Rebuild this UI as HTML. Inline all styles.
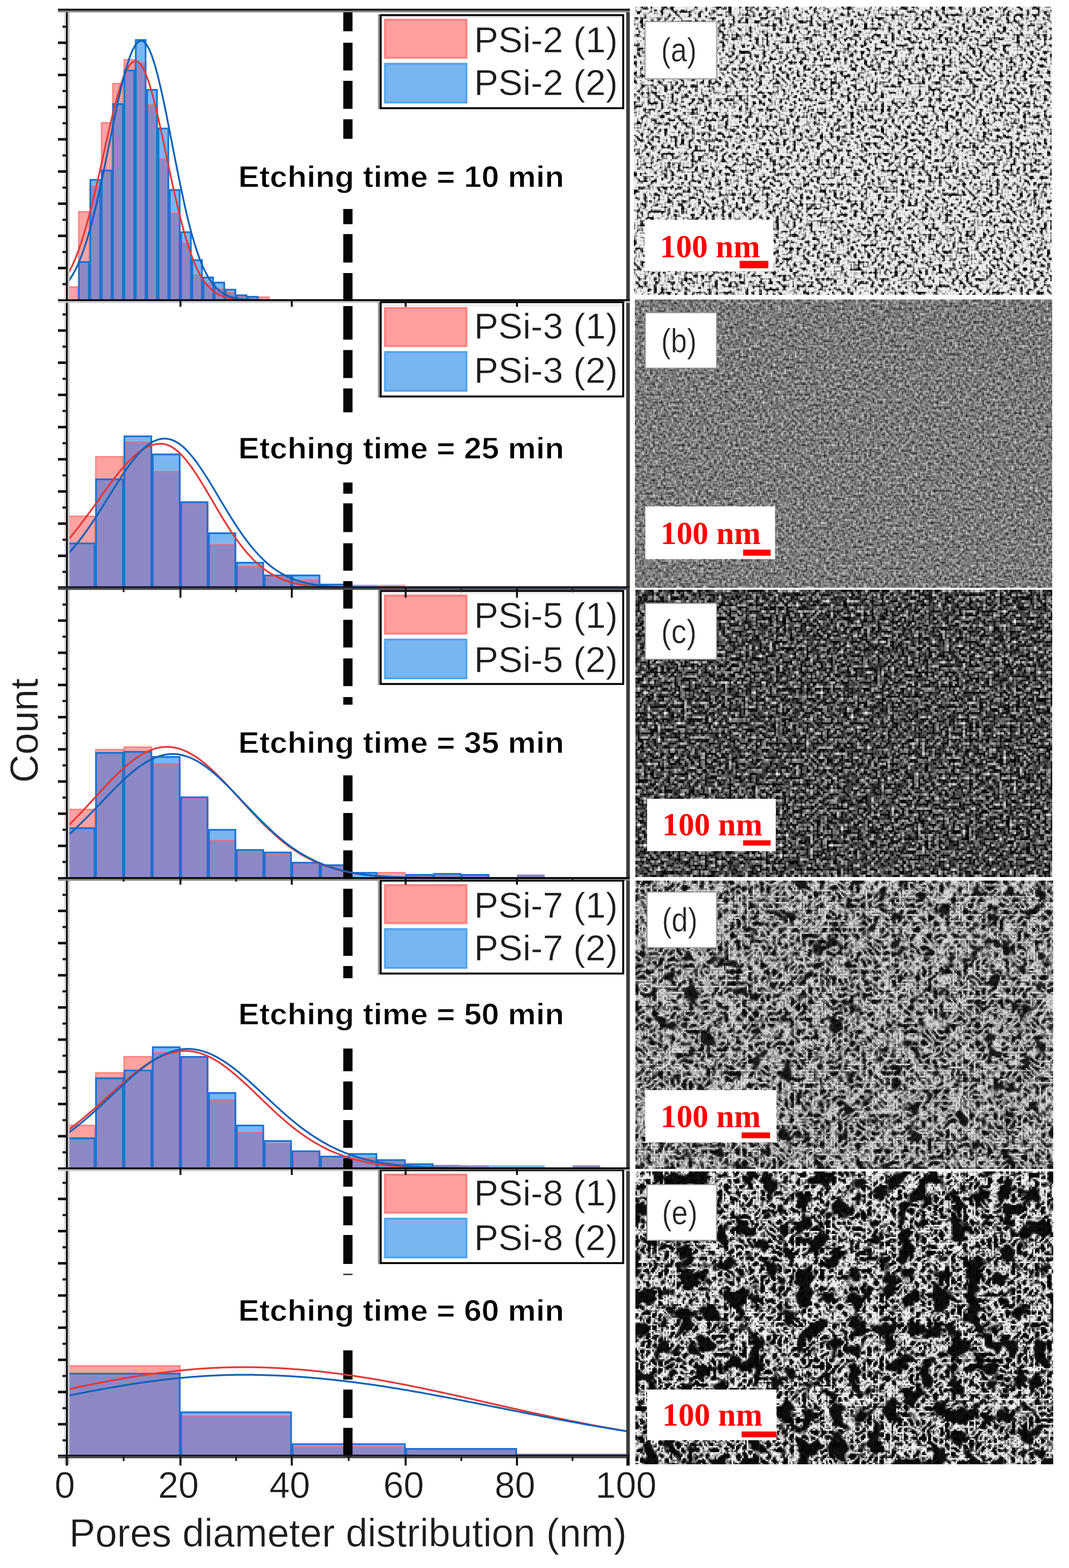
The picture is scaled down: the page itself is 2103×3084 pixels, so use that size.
<!DOCTYPE html>
<html lang="en"><head><meta charset="utf-8"><title>Pores diameter distribution</title>
<style>
html,body{margin:0;padding:0;background:#fff;}
svg{display:block;}
text{font-family:"Liberation Sans",sans-serif;fill:#1c1c1c;stroke:#fff;stroke-width:0.6px;}
.ser{font-family:"Liberation Serif",serif;font-weight:bold;fill:#ff0000;stroke:none;}
.b{font-weight:bold;fill:#000;stroke-width:1px;}
</style></head><body>
<svg width="2103" height="3084" viewBox="0 0 2103 3084">
<rect width="2103" height="3084" fill="#fff"/>

<defs>
<filter id="fa" x="0" y="0" width="100%" height="100%" primitiveUnits="userSpaceOnUse" color-interpolation-filters="sRGB">
 <feTurbulence type="fractalNoise" baseFrequency="0.15" numOctaves="1" seed="3"/>
 <feColorMatrix type="matrix" values="5.0 0 0 0 -1.5978  5.0 0 0 0 -1.5978  5.0 0 0 0 -1.5978  0 0 0 0 1" result="n0"/>
 <feColorMatrix type="matrix" values="0.93 0 0 0 0.0  0.93 0 0 0 0.0  0.93 0 0 0 0.0  0 0 0 0 1" result="n"/>
 <feFlood x="1248" y="14" width="1" height="1" flood-color="#000" result="dot"/>
 <feComposite in="dot" in2="dot" operator="over" x="1247" y="13" width="3" height="3"/>
 <feTile result="grid"/>
 <feComposite in="n" in2="grid" operator="in"/>
 <feMorphology operator="dilate" radius="1"/>
 <feGaussianBlur stdDeviation="0.4"/>
</filter>
<filter id="fb" x="0" y="0" width="100%" height="100%" primitiveUnits="userSpaceOnUse" color-interpolation-filters="sRGB">
 <feTurbulence type="fractalNoise" baseFrequency="0.19" numOctaves="1" seed="7"/>
 <feColorMatrix type="matrix" values="1.15 0 0 0 -0.0927  1.15 0 0 0 -0.0927  1.15 0 0 0 -0.0927  0 0 0 0 1" result="n"/>
 <feFlood x="1250" y="590" width="1" height="1" flood-color="#000" result="dot"/>
 <feComposite in="dot" in2="dot" operator="over" x="1249" y="589" width="3" height="3"/>
 <feTile result="grid"/>
 <feComposite in="n" in2="grid" operator="in"/>
 <feMorphology operator="dilate" radius="1"/>
 <feGaussianBlur stdDeviation="0.4"/>
</filter>
<filter id="fc" x="0" y="0" width="100%" height="100%" primitiveUnits="userSpaceOnUse" color-interpolation-filters="sRGB">
 <feTurbulence type="fractalNoise" baseFrequency="0.15" numOctaves="1" seed="11"/>
 <feColorMatrix type="matrix" values="2.2 0 0 0 -0.8783  2.2 0 0 0 -0.8783  2.2 0 0 0 -0.8783  0 0 0 0 1" result="n"/>
 <feFlood x="1252" y="1162" width="1" height="1" flood-color="#000" result="dot"/>
 <feComposite in="dot" in2="dot" operator="over" x="1250" y="1160" width="4" height="4"/>
 <feTile result="grid"/>
 <feComposite in="n" in2="grid" operator="in"/>
 <feMorphology operator="dilate" radius="2"/>
 <feGaussianBlur stdDeviation="0.5"/>
</filter>
<filter id="fd" x="0" y="0" width="100%" height="100%" primitiveUnits="userSpaceOnUse" color-interpolation-filters="sRGB">
 <feTurbulence type="turbulence" baseFrequency="0.085" numOctaves="2" seed="5"/>
 <feColorMatrix type="matrix" values="-2.4 0 0 0 1.1787  -2.4 0 0 0 1.1787  -2.4 0 0 0 1.1787  0 0 0 0 1" result="hi"/>
 <feTurbulence type="fractalNoise" baseFrequency="0.032" numOctaves="2" seed="21"/>
 <feColorMatrix type="matrix" values="12 0 0 0 -3.4  12 0 0 0 -3.4  12 0 0 0 -3.4  0 0 0 0 1" result="lo"/>
 <feComposite in="hi" in2="lo" operator="arithmetic" k1="0.9" k2="0.10" k3="0" k4="0" result="n0"/>
 <feColorMatrix type="matrix" values="0.82 0 0 0 0.04  0.82 0 0 0 0.04  0.82 0 0 0 0.04  0 0 0 0 1" result="n"/>
 <feFlood x="1251" y="1733" width="1" height="1" flood-color="#000" result="dot"/>
 <feComposite in="dot" in2="dot" operator="over" x="1250" y="1732" width="3" height="3"/>
 <feTile result="grid"/>
 <feComposite in="n" in2="grid" operator="in"/>
 <feMorphology operator="dilate" radius="1"/>
 <feGaussianBlur stdDeviation="0.5"/>
</filter>
<filter id="fe" x="0" y="0" width="100%" height="100%" primitiveUnits="userSpaceOnUse" color-interpolation-filters="sRGB">
 <feTurbulence type="turbulence" baseFrequency="0.085" numOctaves="2" seed="9"/>
 <feColorMatrix type="matrix" values="-4 0 0 0 1.5186  -4 0 0 0 1.5186  -4 0 0 0 1.5186  0 0 0 0 1" result="hi"/>
 <feTurbulence type="fractalNoise" baseFrequency="0.03" numOctaves="2" seed="4"/>
 <feColorMatrix type="matrix" values="12 0 0 0 -4.6  12 0 0 0 -4.6  12 0 0 0 -4.6  0 0 0 0 1" result="lo"/>
 <feComposite in="hi" in2="lo" operator="arithmetic" k1="0.95" k2="0.05" k3="0" k4="0" result="n0"/>
 <feColorMatrix type="matrix" values="0.92 0 0 0 0.02  0.92 0 0 0 0.02  0.92 0 0 0 0.02  0 0 0 0 1" result="n"/>
 <feFlood x="1251" y="2305" width="1" height="1" flood-color="#000" result="dot"/>
 <feComposite in="dot" in2="dot" operator="over" x="1250" y="2304" width="3" height="3"/>
 <feTile result="grid"/>
 <feComposite in="n" in2="grid" operator="in"/>
 <feMorphology operator="dilate" radius="1"/>
 <feGaussianBlur stdDeviation="0.5"/>
</filter>
</defs>

<g>
<rect x="1247" y="13" width="822.5" height="567.7" fill="#888" filter="url(#fa)"/>
<rect x="1269" y="42.6" width="141.0" height="112.4" fill="#fff" stroke="#999" stroke-width="2"/>
<text x="1335.5" y="120.6" font-size="66" text-anchor="middle" textLength="70" lengthAdjust="spacingAndGlyphs" style="fill:#222">(a)</text>
<rect x="1268.3" y="432.3" width="253.3" height="101.0" fill="#fff"/>
<text class="ser" x="1298.3" y="506" font-size="63" textLength="197" lengthAdjust="spacingAndGlyphs">100 nm</text>
<rect x="1455" y="513" width="56.5" height="14.6" fill="#ff0000"/>
</g>
<g>
<rect x="1249" y="589" width="820.5" height="567.5" fill="#888" filter="url(#fb)"/>
<rect x="1269.5" y="615" width="140.1" height="109.0" fill="#fff" stroke="#999" stroke-width="2"/>
<text x="1335.5" y="693.0" font-size="66" text-anchor="middle" textLength="70" lengthAdjust="spacingAndGlyphs" style="fill:#222">(b)</text>
<rect x="1269.5" y="996" width="255.2" height="103.6" fill="#fff"/>
<text class="ser" x="1299.5" y="1070" font-size="63" textLength="197" lengthAdjust="spacingAndGlyphs">100 nm</text>
<rect x="1462" y="1081" width="54.0" height="12.0" fill="#ff0000"/>
</g>
<g>
<rect x="1250" y="1160" width="819.5" height="564.7" fill="#888" filter="url(#fc)"/>
<rect x="1269.5" y="1186.7" width="140.1" height="110.0" fill="#fff" stroke="#999" stroke-width="2"/>
<text x="1335.5" y="1264.7" font-size="66" text-anchor="middle" textLength="70" lengthAdjust="spacingAndGlyphs" style="fill:#222">(c)</text>
<rect x="1273" y="1571" width="253.0" height="103.0" fill="#fff"/>
<text class="ser" x="1303.0" y="1643" font-size="63" textLength="197" lengthAdjust="spacingAndGlyphs">100 nm</text>
<rect x="1462" y="1652.7" width="54.0" height="10.3" fill="#ff0000"/>
</g>
<g>
<rect x="1250" y="1732" width="822.5" height="567.8" fill="#888" filter="url(#fd)"/>
<rect x="1273" y="1754.4" width="136.6" height="109.4" fill="#fff" stroke="#999" stroke-width="2"/>
<text x="1337.3" y="1832.4" font-size="66" text-anchor="middle" textLength="70" lengthAdjust="spacingAndGlyphs" style="fill:#222">(d)</text>
<rect x="1269.5" y="2144" width="258.1" height="102.7" fill="#fff"/>
<text class="ser" x="1299.5" y="2217" font-size="63" textLength="197" lengthAdjust="spacingAndGlyphs">100 nm</text>
<rect x="1459" y="2227.3" width="56.0" height="11.4" fill="#ff0000"/>
</g>
<g>
<rect x="1250" y="2304" width="822.5" height="575.5" fill="#888" filter="url(#fe)"/>
<rect x="1273" y="2330" width="136.6" height="109.5" fill="#fff" stroke="#999" stroke-width="2"/>
<text x="1337.3" y="2408.0" font-size="66" text-anchor="middle" textLength="70" lengthAdjust="spacingAndGlyphs" style="fill:#222">(e)</text>
<rect x="1273" y="2733" width="254.6" height="99.6" fill="#fff"/>
<text class="ser" x="1303.0" y="2804" font-size="63" textLength="197" lengthAdjust="spacingAndGlyphs">100 nm</text>
<rect x="1459" y="2815.5" width="68.6" height="11.5" fill="#ff0000"/>
</g>
<g>
<rect x="131.5" y="563.0" width="22.3" height="27.5" fill="#ffa2a2"/><rect x="153.8" y="513.6" width="22.3" height="76.9" fill="#8d88c5"/><rect x="153.8" y="415.0" width="22.3" height="98.6" fill="#ffa2a2"/><rect x="176.2" y="365.0" width="22.4" height="225.5" fill="#8d88c5"/><rect x="176.2" y="352.0" width="22.4" height="13.0" fill="#79b6f2"/><rect x="198.6" y="333.5" width="22.3" height="257.0" fill="#8d88c5"/><rect x="198.6" y="240.0" width="22.3" height="93.5" fill="#ffa2a2"/><rect x="220.9" y="203.0" width="22.3" height="387.5" fill="#8d88c5"/><rect x="220.9" y="163.0" width="22.3" height="40.0" fill="#ffa2a2"/><rect x="243.2" y="137.0" width="22.4" height="453.5" fill="#8d88c5"/><rect x="243.2" y="116.0" width="22.4" height="21.0" fill="#ffa2a2"/><rect x="265.6" y="123.0" width="22.3" height="467.5" fill="#8d88c5"/><rect x="265.6" y="77.0" width="22.3" height="46.0" fill="#79b6f2"/><rect x="287.9" y="205.0" width="22.4" height="385.5" fill="#8d88c5"/><rect x="287.9" y="175.0" width="22.4" height="30.0" fill="#79b6f2"/><rect x="310.3" y="311.0" width="22.3" height="279.5" fill="#8d88c5"/><rect x="310.3" y="251.0" width="22.3" height="60.0" fill="#79b6f2"/><rect x="332.6" y="417.5" width="22.4" height="173.0" fill="#8d88c5"/><rect x="332.6" y="372.0" width="22.4" height="45.5" fill="#79b6f2"/><rect x="355.0" y="477.0" width="21.9" height="113.5" fill="#8d88c5"/><rect x="355.0" y="455.0" width="21.9" height="22.0" fill="#79b6f2"/><rect x="376.9" y="540.0" width="21.9" height="50.5" fill="#8d88c5"/><rect x="376.9" y="510.0" width="21.9" height="30.0" fill="#79b6f2"/><rect x="398.8" y="556.0" width="21.9" height="34.5" fill="#8d88c5"/><rect x="398.8" y="544.0" width="21.9" height="12.0" fill="#79b6f2"/><rect x="420.7" y="567.0" width="21.9" height="23.5" fill="#8d88c5"/><rect x="420.7" y="554.0" width="21.9" height="13.0" fill="#79b6f2"/><rect x="442.6" y="574.0" width="21.9" height="16.5" fill="#8d88c5"/><rect x="442.6" y="568.0" width="21.9" height="6.0" fill="#79b6f2"/><rect x="464.5" y="581.0" width="21.9" height="9.5" fill="#8d88c5"/><rect x="464.5" y="579.0" width="21.9" height="2.0" fill="#79b6f2"/><rect x="486.4" y="583.0" width="21.9" height="7.5" fill="#8d88c5"/><rect x="486.4" y="582.0" width="21.9" height="1.0" fill="#79b6f2"/><rect x="508.3" y="583.0" width="21.9" height="7.5" fill="#ffa2a2"/>
<g fill="none" stroke="#ff6e6e" stroke-width="3" stroke-opacity="0.55"><path d="M132.5,590.5 V564.5 H152.8 V590.5"/><path d="M154.8,590.5 V416.5 H175.2 V590.5"/><path d="M177.2,590.5 V366.5 H197.6 V590.5"/><path d="M199.6,590.5 V241.5 H219.9 V590.5"/><path d="M221.9,590.5 V164.5 H242.2 V590.5"/><path d="M244.2,590.5 V117.5 H264.6 V590.5"/><path d="M266.6,590.5 V124.5 H286.9 V590.5"/><path d="M288.9,590.5 V206.5 H309.3 V590.5"/><path d="M311.3,590.5 V312.5 H331.6 V590.5"/><path d="M333.6,590.5 V419.0 H354.0 V590.5"/><path d="M356.0,590.5 V478.5 H375.9 V590.5"/><path d="M377.9,590.5 V541.5 H397.8 V590.5"/><path d="M399.8,590.5 V557.5 H419.7 V590.5"/><path d="M421.7,590.5 V568.5 H441.6 V590.5"/><path d="M443.6,590.5 V575.5 H463.5 V590.5"/><path d="M465.5,590.5 V582.5 H485.4 V590.5"/><path d="M487.4,590.5 V584.5 H507.3 V590.5"/><path d="M509.3,590.5 V584.5 H529.2 V590.5"/></g>
<g fill="none" stroke="#0f6fd4" stroke-width="3.4" stroke-opacity="0.9"><path d="M155.3,590.5 V515.3 H174.7 V590.5"/><path d="M177.7,590.5 V353.7 H197.1 V590.5"/><path d="M200.1,590.5 V335.2 H219.4 V590.5"/><path d="M222.4,590.5 V204.7 H241.8 V590.5"/><path d="M244.8,590.5 V138.7 H264.1 V590.5"/><path d="M267.1,590.5 V78.7 H286.4 V590.5"/><path d="M289.4,590.5 V176.7 H308.8 V590.5"/><path d="M311.8,590.5 V252.7 H331.1 V590.5"/><path d="M334.1,590.5 V373.7 H353.5 V590.5"/><path d="M356.5,590.5 V456.7 H375.4 V590.5"/><path d="M378.4,590.5 V511.7 H397.3 V590.5"/><path d="M400.3,590.5 V545.7 H419.2 V590.5"/><path d="M422.2,590.5 V555.7 H441.1 V590.5"/><path d="M444.1,590.5 V569.7 H463.0 V590.5"/><path d="M466.0,590.5 V580.7 H484.9 V590.5"/><path d="M487.9,590.5 V583.7 H506.8 V590.5"/></g>
</g>
<g>
<rect x="131.5" y="1067.0" width="55.9" height="89.5" fill="#8d88c5"/><rect x="131.5" y="1014.0" width="55.9" height="53.0" fill="#ffa2a2"/><rect x="187.4" y="941.0" width="55.9" height="215.5" fill="#8d88c5"/><rect x="187.4" y="897.0" width="55.9" height="44.0" fill="#ffa2a2"/><rect x="243.2" y="867.7" width="55.9" height="288.8" fill="#8d88c5"/><rect x="243.2" y="856.6" width="55.9" height="11.1" fill="#79b6f2"/><rect x="299.1" y="925.7" width="55.9" height="230.8" fill="#8d88c5"/><rect x="299.1" y="892.0" width="55.9" height="33.7" fill="#79b6f2"/><rect x="355.0" y="989.0" width="54.8" height="167.5" fill="#8d88c5"/><rect x="355.0" y="986.0" width="54.8" height="3.0" fill="#79b6f2"/><rect x="409.8" y="1069.6" width="54.8" height="86.9" fill="#8d88c5"/><rect x="409.8" y="1047.0" width="54.8" height="22.6" fill="#79b6f2"/><rect x="464.5" y="1112.5" width="54.8" height="44.0" fill="#8d88c5"/><rect x="464.5" y="1105.0" width="54.8" height="7.5" fill="#79b6f2"/><rect x="519.2" y="1132.7" width="54.8" height="23.8" fill="#8d88c5"/><rect x="519.2" y="1130.0" width="54.8" height="2.7" fill="#79b6f2"/><rect x="574.0" y="1140.0" width="56.0" height="16.5" fill="#8d88c5"/><rect x="574.0" y="1130.0" width="56.0" height="10.0" fill="#79b6f2"/><rect x="630.0" y="1148.0" width="56.0" height="8.5" fill="#8d88c5"/><rect x="686.0" y="1150.0" width="56.0" height="6.5" fill="#79b6f2"/><rect x="742.0" y="1150.0" width="56.0" height="6.5" fill="#ffa2a2"/>
<g fill="none" stroke="#ff6e6e" stroke-width="3" stroke-opacity="0.55"><path d="M132.5,1156.5 V1015.5 H186.4 V1156.5"/><path d="M188.4,1156.5 V898.5 H242.2 V1156.5"/><path d="M244.2,1156.5 V869.2 H298.1 V1156.5"/><path d="M300.1,1156.5 V927.2 H354.0 V1156.5"/><path d="M356.0,1156.5 V990.5 H408.8 V1156.5"/><path d="M410.8,1156.5 V1071.1 H463.5 V1156.5"/><path d="M465.5,1156.5 V1114.0 H518.2 V1156.5"/><path d="M520.2,1156.5 V1134.2 H573.0 V1156.5"/><path d="M575.0,1156.5 V1141.5 H629.0 V1156.5"/><path d="M631.0,1156.5 V1149.5 H685.0 V1156.5"/></g>
<g fill="none" stroke="#0f6fd4" stroke-width="3.4" stroke-opacity="0.9"><path d="M133.0,1156.5 V1068.7 H185.9 V1156.5"/><path d="M188.9,1156.5 V942.7 H241.8 V1156.5"/><path d="M244.8,1156.5 V858.3 H297.6 V1156.5"/><path d="M300.6,1156.5 V893.7 H353.5 V1156.5"/><path d="M356.5,1156.5 V987.7 H408.2 V1156.5"/><path d="M411.2,1156.5 V1048.7 H463.0 V1156.5"/><path d="M466.0,1156.5 V1106.7 H517.8 V1156.5"/><path d="M520.8,1156.5 V1131.7 H572.5 V1156.5"/><path d="M575.5,1156.5 V1131.7 H628.5 V1156.5"/><path d="M631.5,1156.5 V1149.7 H684.5 V1156.5"/></g>
</g>
<g>
<rect x="131.5" y="1627.0" width="55.9" height="100.0" fill="#8d88c5"/><rect x="131.5" y="1590.7" width="55.9" height="36.3" fill="#ffa2a2"/><rect x="187.4" y="1479.0" width="55.9" height="248.0" fill="#8d88c5"/><rect x="187.4" y="1473.0" width="55.9" height="6.0" fill="#ffa2a2"/><rect x="243.2" y="1477.0" width="55.9" height="250.0" fill="#8d88c5"/><rect x="243.2" y="1468.0" width="55.9" height="9.0" fill="#ffa2a2"/><rect x="299.1" y="1501.0" width="55.9" height="226.0" fill="#8d88c5"/><rect x="299.1" y="1487.0" width="55.9" height="14.0" fill="#79b6f2"/><rect x="355.0" y="1569.0" width="54.8" height="158.0" fill="#8d88c5"/><rect x="355.0" y="1566.5" width="54.8" height="2.5" fill="#79b6f2"/><rect x="409.8" y="1652.0" width="54.8" height="75.0" fill="#8d88c5"/><rect x="409.8" y="1630.6" width="54.8" height="21.4" fill="#79b6f2"/><rect x="464.5" y="1672.5" width="54.8" height="54.5" fill="#8d88c5"/><rect x="464.5" y="1670.0" width="54.8" height="2.5" fill="#79b6f2"/><rect x="519.2" y="1679.0" width="54.8" height="48.0" fill="#8d88c5"/><rect x="519.2" y="1675.0" width="54.8" height="4.0" fill="#79b6f2"/><rect x="574.0" y="1696.0" width="56.0" height="31.0" fill="#8d88c5"/><rect x="574.0" y="1695.0" width="56.0" height="1.0" fill="#79b6f2"/><rect x="630.0" y="1701.0" width="56.0" height="26.0" fill="#8d88c5"/><rect x="630.0" y="1700.0" width="56.0" height="1.0" fill="#79b6f2"/><rect x="686.0" y="1715.0" width="56.0" height="12.0" fill="#79b6f2"/><rect x="742.0" y="1715.0" width="56.0" height="12.0" fill="#ffa2a2"/><rect x="798.0" y="1719.0" width="54.8" height="8.0" fill="#8d88c5"/><rect x="852.8" y="1720.0" width="54.8" height="7.0" fill="#8d88c5"/><rect x="852.8" y="1717.0" width="54.8" height="3.0" fill="#79b6f2"/><rect x="907.5" y="1719.0" width="54.8" height="8.0" fill="#8d88c5"/><rect x="1017.0" y="1720.0" width="54.6" height="7.0" fill="#8d88c5"/>
<g fill="none" stroke="#ff6e6e" stroke-width="3" stroke-opacity="0.55"><path d="M132.5,1727.0 V1592.2 H186.4 V1727.0"/><path d="M188.4,1727.0 V1474.5 H242.2 V1727.0"/><path d="M244.2,1727.0 V1469.5 H298.1 V1727.0"/><path d="M300.1,1727.0 V1502.5 H354.0 V1727.0"/><path d="M356.0,1727.0 V1570.5 H408.8 V1727.0"/><path d="M410.8,1727.0 V1653.5 H463.5 V1727.0"/><path d="M465.5,1727.0 V1674.0 H518.2 V1727.0"/><path d="M520.2,1727.0 V1680.5 H573.0 V1727.0"/><path d="M575.0,1727.0 V1697.5 H629.0 V1727.0"/><path d="M631.0,1727.0 V1702.5 H685.0 V1727.0"/><path d="M743.0,1727.0 V1716.5 H797.0 V1727.0"/><path d="M799.0,1727.0 V1720.5 H851.8 V1727.0"/><path d="M908.5,1727.0 V1720.5 H961.2 V1727.0"/></g>
<g fill="none" stroke="#0f6fd4" stroke-width="3.4" stroke-opacity="0.9"><path d="M133.0,1727.0 V1628.7 H185.9 V1727.0"/><path d="M188.9,1727.0 V1480.7 H241.8 V1727.0"/><path d="M244.8,1727.0 V1478.7 H297.6 V1727.0"/><path d="M300.6,1727.0 V1488.7 H353.5 V1727.0"/><path d="M356.5,1727.0 V1568.2 H408.2 V1727.0"/><path d="M411.2,1727.0 V1632.3 H463.0 V1727.0"/><path d="M466.0,1727.0 V1671.7 H517.8 V1727.0"/><path d="M520.8,1727.0 V1676.7 H572.5 V1727.0"/><path d="M575.5,1727.0 V1696.7 H628.5 V1727.0"/><path d="M631.5,1727.0 V1701.7 H684.5 V1727.0"/><path d="M687.5,1727.0 V1716.7 H740.5 V1727.0"/><path d="M799.5,1727.0 V1720.7 H851.2 V1727.0"/><path d="M854.2,1727.0 V1718.7 H906.0 V1727.0"/><path d="M909.0,1727.0 V1720.7 H960.8 V1727.0"/></g>
</g>
<g>
<rect x="131.5" y="2237.0" width="55.9" height="61.0" fill="#8d88c5"/><rect x="131.5" y="2212.0" width="55.9" height="25.0" fill="#ffa2a2"/><rect x="187.4" y="2119.0" width="55.9" height="179.0" fill="#8d88c5"/><rect x="187.4" y="2108.7" width="55.9" height="10.3" fill="#ffa2a2"/><rect x="243.2" y="2103.7" width="55.9" height="194.3" fill="#8d88c5"/><rect x="243.2" y="2077.0" width="55.9" height="26.7" fill="#ffa2a2"/><rect x="299.1" y="2069.0" width="55.9" height="229.0" fill="#8d88c5"/><rect x="299.1" y="2058.0" width="55.9" height="11.0" fill="#79b6f2"/><rect x="355.0" y="2077.0" width="54.8" height="221.0" fill="#8d88c5"/><rect x="409.8" y="2162.0" width="54.8" height="136.0" fill="#8d88c5"/><rect x="409.8" y="2148.0" width="54.8" height="14.0" fill="#79b6f2"/><rect x="464.5" y="2226.0" width="54.8" height="72.0" fill="#8d88c5"/><rect x="464.5" y="2212.0" width="54.8" height="14.0" fill="#79b6f2"/><rect x="519.2" y="2247.5" width="54.8" height="50.5" fill="#8d88c5"/><rect x="519.2" y="2242.5" width="54.8" height="5.0" fill="#79b6f2"/><rect x="574.0" y="2263.0" width="56.0" height="35.0" fill="#8d88c5"/><rect x="574.0" y="2262.7" width="56.0" height="0.3" fill="#79b6f2"/><rect x="630.0" y="2274.0" width="56.0" height="24.0" fill="#8d88c5"/><rect x="630.0" y="2273.0" width="56.0" height="1.0" fill="#79b6f2"/><rect x="686.0" y="2276.0" width="56.0" height="22.0" fill="#8d88c5"/><rect x="686.0" y="2268.0" width="56.0" height="8.0" fill="#79b6f2"/><rect x="742.0" y="2281.0" width="56.0" height="17.0" fill="#8d88c5"/><rect x="742.0" y="2280.0" width="56.0" height="1.0" fill="#79b6f2"/><rect x="798.0" y="2289.0" width="54.8" height="9.0" fill="#8d88c5"/><rect x="798.0" y="2288.0" width="54.8" height="1.0" fill="#79b6f2"/><rect x="852.8" y="2291.0" width="54.8" height="7.0" fill="#8d88c5"/><rect x="907.5" y="2292.0" width="54.8" height="6.0" fill="#8d88c5"/><rect x="962.2" y="2292.0" width="54.8" height="6.0" fill="#79b6f2"/><rect x="1017.0" y="2292.0" width="54.6" height="6.0" fill="#79b6f2"/><rect x="1126.2" y="2292.0" width="54.6" height="6.0" fill="#8d88c5"/>
<g fill="none" stroke="#ff6e6e" stroke-width="3" stroke-opacity="0.55"><path d="M132.5,2298.0 V2213.5 H186.4 V2298.0"/><path d="M188.4,2298.0 V2110.2 H242.2 V2298.0"/><path d="M244.2,2298.0 V2078.5 H298.1 V2298.0"/><path d="M300.1,2298.0 V2070.5 H354.0 V2298.0"/><path d="M356.0,2298.0 V2078.5 H408.8 V2298.0"/><path d="M410.8,2298.0 V2163.5 H463.5 V2298.0"/><path d="M465.5,2298.0 V2227.5 H518.2 V2298.0"/><path d="M520.2,2298.0 V2249.0 H573.0 V2298.0"/><path d="M575.0,2298.0 V2264.5 H629.0 V2298.0"/><path d="M631.0,2298.0 V2275.5 H685.0 V2298.0"/><path d="M687.0,2298.0 V2277.5 H741.0 V2298.0"/><path d="M743.0,2298.0 V2282.5 H797.0 V2298.0"/><path d="M799.0,2298.0 V2290.5 H851.8 V2298.0"/></g>
<g fill="none" stroke="#0f6fd4" stroke-width="3.4" stroke-opacity="0.9"><path d="M133.0,2298.0 V2238.7 H185.9 V2298.0"/><path d="M188.9,2298.0 V2120.7 H241.8 V2298.0"/><path d="M244.8,2298.0 V2105.4 H297.6 V2298.0"/><path d="M300.6,2298.0 V2059.7 H353.5 V2298.0"/><path d="M356.5,2298.0 V2078.7 H408.2 V2298.0"/><path d="M411.2,2298.0 V2149.7 H463.0 V2298.0"/><path d="M466.0,2298.0 V2213.7 H517.8 V2298.0"/><path d="M520.8,2298.0 V2244.2 H572.5 V2298.0"/><path d="M575.5,2298.0 V2264.4 H628.5 V2298.0"/><path d="M631.5,2298.0 V2274.7 H684.5 V2298.0"/><path d="M687.5,2298.0 V2269.7 H740.5 V2298.0"/><path d="M743.5,2298.0 V2281.7 H796.5 V2298.0"/><path d="M799.5,2298.0 V2289.7 H851.2 V2298.0"/></g>
</g>
<g>
<rect x="131.5" y="2700.0" width="223.5" height="164.5" fill="#8d88c5"/><rect x="131.5" y="2685.0" width="223.5" height="15.0" fill="#ffa2a2"/><rect x="355.0" y="2783.5" width="219.0" height="81.0" fill="#8d88c5"/><rect x="355.0" y="2776.0" width="219.0" height="7.5" fill="#79b6f2"/><rect x="574.0" y="2844.0" width="224.0" height="20.5" fill="#8d88c5"/><rect x="574.0" y="2838.7" width="224.0" height="5.3" fill="#79b6f2"/><rect x="798.0" y="2848.0" width="219.0" height="16.5" fill="#8d88c5"/><rect x="1017.0" y="2859.0" width="218.5" height="5.5" fill="#8d88c5"/>
<g fill="none" stroke="#ff6e6e" stroke-width="3" stroke-opacity="0.55"><path d="M132.5,2864.5 V2686.5 H354.0 V2864.5"/><path d="M356.0,2864.5 V2785.0 H573.0 V2864.5"/><path d="M575.0,2864.5 V2845.5 H797.0 V2864.5"/><path d="M799.0,2864.5 V2849.5 H1016.0 V2864.5"/></g>
<g fill="none" stroke="#0f6fd4" stroke-width="3.4" stroke-opacity="0.9"><path d="M133.0,2864.5 V2701.7 H353.5 V2864.5"/><path d="M356.5,2864.5 V2777.7 H572.5 V2864.5"/><path d="M575.5,2864.5 V2840.4 H796.5 V2864.5"/><path d="M799.5,2864.5 V2849.7 H1015.5 V2864.5"/></g>
</g>
<g fill="#060606">
<rect x="675.3" y="19.0" width="18.2" height="42.5"/>
<rect x="675.3" y="84.0" width="18.2" height="54.6"/>
<rect x="675.3" y="159.0" width="18.2" height="55.0"/>
<rect x="675.3" y="234.5" width="18.2" height="38.5"/>
<rect x="675.3" y="411.0" width="18.2" height="30.0"/>
<rect x="675.3" y="460.4" width="18.2" height="56.0"/>
<rect x="675.3" y="537.0" width="18.2" height="56.0"/>
<rect x="675.3" y="602.0" width="18.2" height="66.0"/>
<rect x="675.3" y="688.5" width="18.2" height="55.0"/>
<rect x="675.3" y="764.0" width="18.2" height="47.0"/>
<rect x="675.3" y="949.0" width="18.2" height="22.0"/>
<rect x="675.3" y="990.0" width="18.2" height="56.5"/>
<rect x="675.3" y="1068.5" width="18.2" height="54.0"/>
<rect x="675.3" y="1143.0" width="18.2" height="54.0"/>
<rect x="675.3" y="1219.0" width="18.2" height="54.5"/>
<rect x="675.3" y="1295.0" width="18.2" height="54.5"/>
<rect x="675.3" y="1371.0" width="18.2" height="15.0"/>
<rect x="675.3" y="1525.0" width="18.2" height="51.0"/>
<rect x="675.3" y="1599.0" width="18.2" height="54.0"/>
<rect x="675.3" y="1672.5" width="18.2" height="57.5"/>
<rect x="675.3" y="1748.0" width="18.2" height="56.0"/>
<rect x="675.3" y="1824.0" width="18.2" height="56.0"/>
<rect x="675.3" y="1900.0" width="18.2" height="24.0"/>
<rect x="675.3" y="2062.3" width="18.2" height="44.7"/>
<rect x="675.3" y="2127.0" width="18.2" height="56.0"/>
<rect x="675.3" y="2203.0" width="18.2" height="54.6"/>
<rect x="675.3" y="2278.0" width="18.2" height="56.0"/>
<rect x="675.3" y="2353.0" width="18.2" height="57.0"/>
<rect x="675.3" y="2429.0" width="18.2" height="57.0"/>
<rect x="675.3" y="2656.0" width="18.2" height="57.4"/>
<rect x="675.3" y="2733.0" width="18.2" height="56.0"/>
<rect x="675.3" y="2808.4" width="18.2" height="57.6"/>
<rect x="675.3" y="2505" width="18.2" height="3" fill="#444"/>
</g>
<g fill="none" stroke-width="3.5">
<path d="M131.5,542.2 L137.1,532.5 L142.7,521.3 L148.3,508.5 L153.8,494.2 L159.4,478.3 L165.0,460.7 L170.6,441.6 L176.2,420.9 L181.8,398.9 L187.4,375.7 L193.0,351.5 L198.6,326.7 L204.1,301.6 L209.7,276.5 L215.3,251.9 L220.9,228.2 L226.5,205.9 L232.1,185.3 L237.7,167.0 L243.2,151.2 L248.8,138.4 L254.4,128.8 L260.0,122.6 L265.6,120.1 L271.2,121.3 L276.8,126.5 L282.4,135.5 L287.9,148.2 L293.5,164.2 L299.1,183.2 L304.7,204.6 L310.3,228.0 L315.9,252.9 L321.5,278.8 L327.1,305.1 L332.6,331.5 L338.2,357.4 L343.8,382.5 L349.4,406.5 L355.0,429.1 L360.5,450.2 L365.9,469.5 L371.4,487.1 L376.9,502.9 L382.4,516.9 L387.9,529.2 L393.3,539.8 L398.8,549.0 L404.3,556.8 L409.8,563.4 L415.2,568.9 L420.7,573.4 L426.2,577.1 L431.6,580.0 L437.1,582.4 L442.6,584.3 L448.1,585.8 L453.6,587.0 L459.0,587.9 L464.5,588.6 L470.0,589.1 L475.4,589.5 L480.9,589.8 L486.4,590.0 L491.9,590.1 L497.4,590.2 L502.8,590.3 L508.3,590.4 L513.8,590.4 L519.2,590.4 L524.7,590.5 L530.2,590.5 L535.7,590.5 L541.1,590.5 L546.6,590.5 L552.1,590.5 L557.6,590.5 L563.0,590.5 L568.5,590.5 L574.0,590.5 L579.6,590.5 L585.2,590.5 L590.8,590.5 L596.4,590.5 L602.0,590.5 L607.6,590.5 L613.2,590.5 L618.8,590.5 L624.4,590.5 L630.0,590.5 L635.6,590.5 L641.2,590.5 L646.8,590.5 L652.4,590.5 L658.0,590.5 L663.6,590.5 L669.2,590.5 L674.8,590.5 L680.4,590.5 L686.0,590.5 L691.6,590.5 L697.2,590.5 L702.8,590.5 L708.4,590.5 L714.0,590.5 L719.6,590.5 L725.2,590.5 L730.8,590.5 L736.4,590.5 L742.0,590.5 L747.6,590.5 L753.2,590.5 L758.8,590.5 L764.4,590.5 L770.0,590.5 L775.6,590.5 L781.2,590.5 L786.8,590.5 L792.4,590.5 L798.0,590.5 L803.5,590.5 L809.0,590.5 L814.4,590.5 L819.9,590.5 L825.4,590.5 L830.9,590.5 L836.3,590.5 L841.8,590.5 L847.3,590.5 L852.8,590.5 L858.2,590.5 L863.7,590.5 L869.2,590.5 L874.6,590.5 L880.1,590.5 L885.6,590.5 L891.1,590.5 L896.5,590.5 L902.0,590.5 L907.5,590.5 L913.0,590.5 L918.5,590.5 L923.9,590.5 L929.4,590.5 L934.9,590.5 L940.4,590.5 L945.8,590.5 L951.3,590.5 L956.8,590.5 L962.2,590.5 L967.7,590.5 L973.2,590.5 L978.7,590.5 L984.1,590.5 L989.6,590.5 L995.1,590.5 L1000.6,590.5 L1006.0,590.5 L1011.5,590.5 L1017.0,590.5 L1022.5,590.5 L1027.9,590.5 L1033.4,590.5 L1038.8,590.5 L1044.3,590.5 L1049.8,590.5 L1055.2,590.5 L1060.7,590.5 L1066.2,590.5 L1071.6,590.5 L1077.1,590.5 L1082.5,590.5 L1088.0,590.5 L1093.5,590.5 L1098.9,590.5 L1104.4,590.5 L1109.9,590.5 L1115.3,590.5 L1120.8,590.5 L1126.2,590.5 L1131.7,590.5 L1137.2,590.5 L1142.6,590.5 L1148.1,590.5 L1153.6,590.5 L1159.0,590.5 L1164.5,590.5 L1170.0,590.5 L1175.4,590.5 L1180.9,590.5 L1186.3,590.5 L1191.8,590.5 L1197.3,590.5 L1202.7,590.5 L1208.2,590.5 L1213.7,590.5 L1219.1,590.5 L1224.6,590.5 L1230.0,590.5 L1235.5,590.5" stroke="#e23a3a"/>
<path d="M131.5,557.4 L137.1,549.9 L142.7,541.0 L148.3,530.8 L153.8,518.9 L159.4,505.4 L165.0,490.1 L170.6,473.1 L176.2,454.2 L181.8,433.5 L187.4,411.2 L193.0,387.2 L198.6,362.0 L204.1,335.6 L209.7,308.4 L215.3,280.9 L220.9,253.3 L226.5,226.2 L232.1,200.0 L237.7,175.3 L243.2,152.5 L248.8,132.2 L254.4,114.7 L260.0,100.4 L265.6,89.8 L271.2,82.9 L276.8,80.1 L282.4,81.4 L287.9,87.0 L293.5,96.9 L299.1,110.6 L304.7,128.0 L310.3,148.6 L315.9,171.8 L321.5,197.2 L327.1,224.2 L332.6,252.3 L338.2,280.9 L343.8,309.5 L349.4,337.6 L355.0,364.8 L360.5,390.9 L365.9,415.4 L371.4,438.3 L376.9,459.2 L382.4,478.3 L387.9,495.4 L393.3,510.6 L398.8,523.9 L404.3,535.5 L409.8,545.5 L415.2,553.9 L420.7,561.1 L426.2,567.0 L431.6,571.9 L437.1,575.9 L442.6,579.2 L448.1,581.8 L453.6,583.8 L459.0,585.4 L464.5,586.7 L470.0,587.7 L475.4,588.4 L480.9,589.0 L486.4,589.4 L491.9,589.7 L497.4,589.9 L502.8,590.1 L508.3,590.2 L513.8,590.3 L519.2,590.4 L524.7,590.4 L530.2,590.4 L535.7,590.5 L541.1,590.5 L546.6,590.5 L552.1,590.5 L557.6,590.5 L563.0,590.5 L568.5,590.5 L574.0,590.5 L579.6,590.5 L585.2,590.5 L590.8,590.5 L596.4,590.5 L602.0,590.5 L607.6,590.5 L613.2,590.5 L618.8,590.5 L624.4,590.5 L630.0,590.5 L635.6,590.5 L641.2,590.5 L646.8,590.5 L652.4,590.5 L658.0,590.5 L663.6,590.5 L669.2,590.5 L674.8,590.5 L680.4,590.5 L686.0,590.5 L691.6,590.5 L697.2,590.5 L702.8,590.5 L708.4,590.5 L714.0,590.5 L719.6,590.5 L725.2,590.5 L730.8,590.5 L736.4,590.5 L742.0,590.5 L747.6,590.5 L753.2,590.5 L758.8,590.5 L764.4,590.5 L770.0,590.5 L775.6,590.5 L781.2,590.5 L786.8,590.5 L792.4,590.5 L798.0,590.5 L803.5,590.5 L809.0,590.5 L814.4,590.5 L819.9,590.5 L825.4,590.5 L830.9,590.5 L836.3,590.5 L841.8,590.5 L847.3,590.5 L852.8,590.5 L858.2,590.5 L863.7,590.5 L869.2,590.5 L874.6,590.5 L880.1,590.5 L885.6,590.5 L891.1,590.5 L896.5,590.5 L902.0,590.5 L907.5,590.5 L913.0,590.5 L918.5,590.5 L923.9,590.5 L929.4,590.5 L934.9,590.5 L940.4,590.5 L945.8,590.5 L951.3,590.5 L956.8,590.5 L962.2,590.5 L967.7,590.5 L973.2,590.5 L978.7,590.5 L984.1,590.5 L989.6,590.5 L995.1,590.5 L1000.6,590.5 L1006.0,590.5 L1011.5,590.5 L1017.0,590.5 L1022.5,590.5 L1027.9,590.5 L1033.4,590.5 L1038.8,590.5 L1044.3,590.5 L1049.8,590.5 L1055.2,590.5 L1060.7,590.5 L1066.2,590.5 L1071.6,590.5 L1077.1,590.5 L1082.5,590.5 L1088.0,590.5 L1093.5,590.5 L1098.9,590.5 L1104.4,590.5 L1109.9,590.5 L1115.3,590.5 L1120.8,590.5 L1126.2,590.5 L1131.7,590.5 L1137.2,590.5 L1142.6,590.5 L1148.1,590.5 L1153.6,590.5 L1159.0,590.5 L1164.5,590.5 L1170.0,590.5 L1175.4,590.5 L1180.9,590.5 L1186.3,590.5 L1191.8,590.5 L1197.3,590.5 L1202.7,590.5 L1208.2,590.5 L1213.7,590.5 L1219.1,590.5 L1224.6,590.5 L1230.0,590.5 L1235.5,590.5" stroke="#0a62b8"/>
</g>
<g fill="none" stroke-width="3.5">
<path d="M131.5,1064.4 L137.1,1058.0 L142.7,1051.3 L148.3,1044.5 L153.8,1037.5 L159.4,1030.2 L165.0,1022.9 L170.6,1015.3 L176.2,1007.7 L181.8,1000.0 L187.4,992.2 L193.0,984.4 L198.6,976.5 L204.1,968.8 L209.7,961.0 L215.3,953.4 L220.9,946.0 L226.5,938.6 L232.1,931.6 L237.7,924.7 L243.2,918.2 L248.8,911.9 L254.4,906.0 L260.0,900.6 L265.6,895.5 L271.2,890.9 L276.8,886.7 L282.4,883.1 L287.9,879.9 L293.5,877.4 L299.1,875.3 L304.7,873.9 L310.3,873.0 L315.9,872.7 L321.5,873.1 L327.1,874.4 L332.6,876.4 L338.2,879.3 L343.8,883.0 L349.4,887.4 L355.0,892.5 L360.5,898.3 L365.9,904.7 L371.4,911.7 L376.9,919.1 L382.4,927.1 L387.9,935.4 L393.3,944.0 L398.8,952.9 L404.3,962.0 L409.8,971.3 L415.2,980.6 L420.7,990.0 L426.2,999.3 L431.6,1008.5 L437.1,1017.6 L442.6,1026.6 L448.1,1035.3 L453.6,1043.7 L459.0,1051.9 L464.5,1059.8 L470.0,1067.3 L475.4,1074.5 L480.9,1081.4 L486.4,1087.8 L491.9,1093.9 L497.4,1099.7 L502.8,1105.0 L508.3,1110.0 L513.8,1114.6 L519.2,1118.9 L524.7,1122.9 L530.2,1126.5 L535.7,1129.8 L541.1,1132.8 L546.6,1135.5 L552.1,1138.0 L557.6,1140.2 L563.0,1142.2 L568.5,1144.0 L574.0,1145.6 L579.6,1147.1 L585.2,1148.3 L590.8,1149.4 L596.4,1150.4 L602.0,1151.3 L607.6,1152.0 L613.2,1152.7 L618.8,1153.2 L624.4,1153.7 L630.0,1154.2 L635.6,1154.5 L641.2,1154.8 L646.8,1155.1 L652.4,1155.3 L658.0,1155.5 L663.6,1155.7 L669.2,1155.8 L674.8,1155.9 L680.4,1156.0 L686.0,1156.1 L691.6,1156.2 L697.2,1156.2 L702.8,1156.3 L708.4,1156.3 L714.0,1156.4 L719.6,1156.4 L725.2,1156.4 L730.8,1156.4 L736.4,1156.4 L742.0,1156.5 L747.6,1156.5 L753.2,1156.5 L758.8,1156.5 L764.4,1156.5 L770.0,1156.5 L775.6,1156.5 L781.2,1156.5 L786.8,1156.5 L792.4,1156.5 L798.0,1156.5 L803.5,1156.5 L809.0,1156.5 L814.4,1156.5 L819.9,1156.5 L825.4,1156.5 L830.9,1156.5 L836.3,1156.5 L841.8,1156.5 L847.3,1156.5 L852.8,1156.5 L858.2,1156.5 L863.7,1156.5 L869.2,1156.5 L874.6,1156.5 L880.1,1156.5 L885.6,1156.5 L891.1,1156.5 L896.5,1156.5 L902.0,1156.5 L907.5,1156.5 L913.0,1156.5 L918.5,1156.5 L923.9,1156.5 L929.4,1156.5 L934.9,1156.5 L940.4,1156.5 L945.8,1156.5 L951.3,1156.5 L956.8,1156.5 L962.2,1156.5 L967.7,1156.5 L973.2,1156.5 L978.7,1156.5 L984.1,1156.5 L989.6,1156.5 L995.1,1156.5 L1000.6,1156.5 L1006.0,1156.5 L1011.5,1156.5 L1017.0,1156.5 L1022.5,1156.5 L1027.9,1156.5 L1033.4,1156.5 L1038.8,1156.5 L1044.3,1156.5 L1049.8,1156.5 L1055.2,1156.5 L1060.7,1156.5 L1066.2,1156.5 L1071.6,1156.5 L1077.1,1156.5 L1082.5,1156.5 L1088.0,1156.5 L1093.5,1156.5 L1098.9,1156.5 L1104.4,1156.5 L1109.9,1156.5 L1115.3,1156.5 L1120.8,1156.5 L1126.2,1156.5 L1131.7,1156.5 L1137.2,1156.5 L1142.6,1156.5 L1148.1,1156.5 L1153.6,1156.5 L1159.0,1156.5 L1164.5,1156.5 L1170.0,1156.5 L1175.4,1156.5 L1180.9,1156.5 L1186.3,1156.5 L1191.8,1156.5 L1197.3,1156.5 L1202.7,1156.5 L1208.2,1156.5 L1213.7,1156.5 L1219.1,1156.5 L1224.6,1156.5 L1230.0,1156.5 L1235.5,1156.5" stroke="#e23a3a"/>
<path d="M131.5,1091.5 L137.1,1085.7 L142.7,1079.5 L148.3,1072.9 L153.8,1066.1 L159.4,1058.9 L165.0,1051.4 L170.6,1043.7 L176.2,1035.7 L181.8,1027.4 L187.4,1019.0 L193.0,1010.3 L198.6,1001.5 L204.1,992.6 L209.7,983.6 L215.3,974.6 L220.9,965.7 L226.5,956.7 L232.1,947.9 L237.7,939.3 L243.2,930.9 L248.8,922.8 L254.4,914.9 L260.0,907.5 L265.6,900.5 L271.2,893.9 L276.8,887.9 L282.4,882.4 L287.9,877.6 L293.5,873.3 L299.1,869.8 L304.7,866.9 L310.3,864.8 L315.9,863.3 L321.5,862.7 L327.1,862.7 L332.6,863.6 L338.2,865.2 L343.8,867.6 L349.4,870.7 L355.0,874.6 L360.5,879.1 L365.9,884.3 L371.4,890.1 L376.9,896.5 L382.4,903.4 L387.9,910.7 L393.3,918.5 L398.8,926.6 L404.3,935.1 L409.8,943.8 L415.2,952.7 L420.7,961.7 L426.2,970.9 L431.6,980.1 L437.1,989.3 L442.6,998.4 L448.1,1007.4 L453.6,1016.3 L459.0,1025.0 L464.5,1033.5 L470.0,1041.7 L475.4,1049.7 L480.9,1057.4 L486.4,1064.7 L491.9,1071.8 L497.4,1078.5 L502.8,1084.9 L508.3,1090.9 L513.8,1096.6 L519.2,1101.9 L524.7,1106.9 L530.2,1111.6 L535.7,1115.9 L541.1,1119.9 L546.6,1123.6 L552.1,1127.0 L557.6,1130.1 L563.0,1133.0 L568.5,1135.6 L574.0,1137.9 L579.6,1140.1 L585.2,1142.0 L590.8,1143.8 L596.4,1145.3 L602.0,1146.7 L607.6,1147.9 L613.2,1149.1 L618.8,1150.0 L624.4,1150.9 L630.0,1151.7 L635.6,1152.3 L641.2,1152.9 L646.8,1153.4 L652.4,1153.9 L658.0,1154.3 L663.6,1154.6 L669.2,1154.9 L674.8,1155.1 L680.4,1155.4 L686.0,1155.5 L691.6,1155.7 L697.2,1155.8 L702.8,1155.9 L708.4,1156.0 L714.0,1156.1 L719.6,1156.2 L725.2,1156.2 L730.8,1156.3 L736.4,1156.3 L742.0,1156.4 L747.6,1156.4 L753.2,1156.4 L758.8,1156.4 L764.4,1156.4 L770.0,1156.4 L775.6,1156.5 L781.2,1156.5 L786.8,1156.5 L792.4,1156.5 L798.0,1156.5 L803.5,1156.5 L809.0,1156.5 L814.4,1156.5 L819.9,1156.5 L825.4,1156.5 L830.9,1156.5 L836.3,1156.5 L841.8,1156.5 L847.3,1156.5 L852.8,1156.5 L858.2,1156.5 L863.7,1156.5 L869.2,1156.5 L874.6,1156.5 L880.1,1156.5 L885.6,1156.5 L891.1,1156.5 L896.5,1156.5 L902.0,1156.5 L907.5,1156.5 L913.0,1156.5 L918.5,1156.5 L923.9,1156.5 L929.4,1156.5 L934.9,1156.5 L940.4,1156.5 L945.8,1156.5 L951.3,1156.5 L956.8,1156.5 L962.2,1156.5 L967.7,1156.5 L973.2,1156.5 L978.7,1156.5 L984.1,1156.5 L989.6,1156.5 L995.1,1156.5 L1000.6,1156.5 L1006.0,1156.5 L1011.5,1156.5 L1017.0,1156.5 L1022.5,1156.5 L1027.9,1156.5 L1033.4,1156.5 L1038.8,1156.5 L1044.3,1156.5 L1049.8,1156.5 L1055.2,1156.5 L1060.7,1156.5 L1066.2,1156.5 L1071.6,1156.5 L1077.1,1156.5 L1082.5,1156.5 L1088.0,1156.5 L1093.5,1156.5 L1098.9,1156.5 L1104.4,1156.5 L1109.9,1156.5 L1115.3,1156.5 L1120.8,1156.5 L1126.2,1156.5 L1131.7,1156.5 L1137.2,1156.5 L1142.6,1156.5 L1148.1,1156.5 L1153.6,1156.5 L1159.0,1156.5 L1164.5,1156.5 L1170.0,1156.5 L1175.4,1156.5 L1180.9,1156.5 L1186.3,1156.5 L1191.8,1156.5 L1197.3,1156.5 L1202.7,1156.5 L1208.2,1156.5 L1213.7,1156.5 L1219.1,1156.5 L1224.6,1156.5 L1230.0,1156.5 L1235.5,1156.5" stroke="#0a62b8"/>
</g>
<g fill="none" stroke-width="3.5">
<path d="M131.5,1626.8 L137.1,1621.3 L142.7,1615.7 L148.3,1610.0 L153.8,1604.2 L159.4,1598.3 L165.0,1592.4 L170.6,1586.4 L176.2,1580.3 L181.8,1574.2 L187.4,1568.1 L193.0,1562.0 L198.6,1555.9 L204.1,1549.9 L209.7,1543.9 L215.3,1538.0 L220.9,1532.3 L226.5,1526.6 L232.1,1521.1 L237.7,1515.8 L243.2,1510.7 L248.8,1505.8 L254.4,1501.1 L260.0,1496.7 L265.6,1492.5 L271.2,1488.7 L276.8,1485.1 L282.4,1481.9 L287.9,1479.0 L293.5,1476.5 L299.1,1474.3 L304.7,1472.4 L310.3,1471.0 L315.9,1470.0 L321.5,1469.3 L327.1,1469.0 L332.6,1469.1 L338.2,1469.6 L343.8,1470.5 L349.4,1471.7 L355.0,1473.4 L360.5,1475.3 L365.9,1477.7 L371.4,1480.4 L376.9,1483.4 L382.4,1486.7 L387.9,1490.3 L393.3,1494.2 L398.8,1498.4 L404.3,1502.9 L409.8,1507.6 L415.2,1512.5 L420.7,1517.6 L426.2,1522.9 L431.6,1528.4 L437.1,1533.9 L442.6,1539.7 L448.1,1545.5 L453.6,1551.4 L459.0,1557.3 L464.5,1563.3 L470.0,1569.3 L475.4,1575.3 L480.9,1581.3 L486.4,1587.3 L491.9,1593.2 L497.4,1599.1 L502.8,1604.9 L508.3,1610.6 L513.8,1616.2 L519.2,1621.7 L524.7,1627.0 L530.2,1632.2 L535.7,1637.3 L541.1,1642.3 L546.6,1647.1 L552.1,1651.7 L557.6,1656.1 L563.0,1660.4 L568.5,1664.6 L574.0,1668.5 L579.6,1672.3 L585.2,1675.9 L590.8,1679.4 L596.4,1682.7 L602.0,1685.8 L607.6,1688.7 L613.2,1691.5 L618.8,1694.2 L624.4,1696.7 L630.0,1699.0 L635.6,1701.2 L641.2,1703.3 L646.8,1705.2 L652.4,1707.0 L658.0,1708.7 L663.6,1710.2 L669.2,1711.7 L674.8,1713.0 L680.4,1714.3 L686.0,1715.4 L691.6,1716.5 L697.2,1717.5 L702.8,1718.4 L708.4,1719.2 L714.0,1720.0 L719.6,1720.7 L725.2,1721.3 L730.8,1721.9 L736.4,1722.4 L742.0,1722.9 L747.6,1723.3 L753.2,1723.7 L758.8,1724.1 L764.4,1724.4 L770.0,1724.7 L775.6,1724.9 L781.2,1725.2 L786.8,1725.4 L792.4,1725.6 L798.0,1725.7 L803.5,1725.9 L809.0,1726.0 L814.4,1726.1 L819.9,1726.2 L825.4,1726.3 L830.9,1726.4 L836.3,1726.5 L841.8,1726.6 L847.3,1726.6 L852.8,1726.7 L858.2,1726.7 L863.7,1726.7 L869.2,1726.8 L874.6,1726.8 L880.1,1726.8 L885.6,1726.9 L891.1,1726.9 L896.5,1726.9 L902.0,1726.9 L907.5,1726.9 L913.0,1726.9 L918.5,1726.9 L923.9,1727.0 L929.4,1727.0 L934.9,1727.0 L940.4,1727.0 L945.8,1727.0 L951.3,1727.0 L956.8,1727.0 L962.2,1727.0 L967.7,1727.0 L973.2,1727.0 L978.7,1727.0 L984.1,1727.0 L989.6,1727.0 L995.1,1727.0 L1000.6,1727.0 L1006.0,1727.0 L1011.5,1727.0 L1017.0,1727.0 L1022.5,1727.0 L1027.9,1727.0 L1033.4,1727.0 L1038.8,1727.0 L1044.3,1727.0 L1049.8,1727.0 L1055.2,1727.0 L1060.7,1727.0 L1066.2,1727.0 L1071.6,1727.0 L1077.1,1727.0 L1082.5,1727.0 L1088.0,1727.0 L1093.5,1727.0 L1098.9,1727.0 L1104.4,1727.0 L1109.9,1727.0 L1115.3,1727.0 L1120.8,1727.0 L1126.2,1727.0 L1131.7,1727.0 L1137.2,1727.0 L1142.6,1727.0 L1148.1,1727.0 L1153.6,1727.0 L1159.0,1727.0 L1164.5,1727.0 L1170.0,1727.0 L1175.4,1727.0 L1180.9,1727.0 L1186.3,1727.0 L1191.8,1727.0 L1197.3,1727.0 L1202.7,1727.0 L1208.2,1727.0 L1213.7,1727.0 L1219.1,1727.0 L1224.6,1727.0 L1230.0,1727.0 L1235.5,1727.0" stroke="#e23a3a"/>
<path d="M131.5,1644.9 L137.1,1640.0 L142.7,1635.0 L148.3,1629.9 L153.8,1624.6 L159.4,1619.1 L165.0,1613.6 L170.6,1608.0 L176.2,1602.3 L181.8,1596.5 L187.4,1590.7 L193.0,1584.9 L198.6,1579.0 L204.1,1573.1 L209.7,1567.3 L215.3,1561.5 L220.9,1555.7 L226.5,1550.0 L232.1,1544.5 L237.7,1539.0 L243.2,1533.7 L248.8,1528.6 L254.4,1523.6 L260.0,1518.8 L265.6,1514.3 L271.2,1510.0 L276.8,1505.9 L282.4,1502.2 L287.9,1498.7 L293.5,1495.6 L299.1,1492.8 L304.7,1490.3 L310.3,1488.1 L315.9,1486.4 L321.5,1485.0 L327.1,1483.9 L332.6,1483.3 L338.2,1483.0 L343.8,1483.1 L349.4,1483.6 L355.0,1484.5 L360.5,1485.7 L365.9,1487.3 L371.4,1489.2 L376.9,1491.5 L382.4,1494.1 L387.9,1497.0 L393.3,1500.2 L398.8,1503.8 L404.3,1507.6 L409.8,1511.7 L415.2,1516.0 L420.7,1520.6 L426.2,1525.3 L431.6,1530.3 L437.1,1535.4 L442.6,1540.7 L448.1,1546.1 L453.6,1551.6 L459.0,1557.2 L464.5,1562.9 L470.0,1568.6 L475.4,1574.4 L480.9,1580.2 L486.4,1585.9 L491.9,1591.7 L497.4,1597.4 L502.8,1603.1 L508.3,1608.7 L513.8,1614.2 L519.2,1619.6 L524.7,1624.9 L530.2,1630.1 L535.7,1635.2 L541.1,1640.2 L546.6,1645.0 L552.1,1649.6 L557.6,1654.1 L563.0,1658.5 L568.5,1662.7 L574.0,1666.7 L579.6,1670.5 L585.2,1674.2 L590.8,1677.8 L596.4,1681.1 L602.0,1684.3 L607.6,1687.3 L613.2,1690.2 L618.8,1692.9 L624.4,1695.5 L630.0,1697.9 L635.6,1700.2 L641.2,1702.3 L646.8,1704.3 L652.4,1706.2 L658.0,1707.9 L663.6,1709.5 L669.2,1711.1 L674.8,1712.5 L680.4,1713.8 L686.0,1715.0 L691.6,1716.1 L697.2,1717.1 L702.8,1718.0 L708.4,1718.9 L714.0,1719.7 L719.6,1720.4 L725.2,1721.1 L730.8,1721.7 L736.4,1722.2 L742.0,1722.7 L747.6,1723.2 L753.2,1723.6 L758.8,1724.0 L764.4,1724.3 L770.0,1724.6 L775.6,1724.9 L781.2,1725.1 L786.8,1725.3 L792.4,1725.5 L798.0,1725.7 L803.5,1725.9 L809.0,1726.0 L814.4,1726.1 L819.9,1726.2 L825.4,1726.3 L830.9,1726.4 L836.3,1726.5 L841.8,1726.5 L847.3,1726.6 L852.8,1726.7 L858.2,1726.7 L863.7,1726.7 L869.2,1726.8 L874.6,1726.8 L880.1,1726.8 L885.6,1726.9 L891.1,1726.9 L896.5,1726.9 L902.0,1726.9 L907.5,1726.9 L913.0,1726.9 L918.5,1726.9 L923.9,1727.0 L929.4,1727.0 L934.9,1727.0 L940.4,1727.0 L945.8,1727.0 L951.3,1727.0 L956.8,1727.0 L962.2,1727.0 L967.7,1727.0 L973.2,1727.0 L978.7,1727.0 L984.1,1727.0 L989.6,1727.0 L995.1,1727.0 L1000.6,1727.0 L1006.0,1727.0 L1011.5,1727.0 L1017.0,1727.0 L1022.5,1727.0 L1027.9,1727.0 L1033.4,1727.0 L1038.8,1727.0 L1044.3,1727.0 L1049.8,1727.0 L1055.2,1727.0 L1060.7,1727.0 L1066.2,1727.0 L1071.6,1727.0 L1077.1,1727.0 L1082.5,1727.0 L1088.0,1727.0 L1093.5,1727.0 L1098.9,1727.0 L1104.4,1727.0 L1109.9,1727.0 L1115.3,1727.0 L1120.8,1727.0 L1126.2,1727.0 L1131.7,1727.0 L1137.2,1727.0 L1142.6,1727.0 L1148.1,1727.0 L1153.6,1727.0 L1159.0,1727.0 L1164.5,1727.0 L1170.0,1727.0 L1175.4,1727.0 L1180.9,1727.0 L1186.3,1727.0 L1191.8,1727.0 L1197.3,1727.0 L1202.7,1727.0 L1208.2,1727.0 L1213.7,1727.0 L1219.1,1727.0 L1224.6,1727.0 L1230.0,1727.0 L1235.5,1727.0" stroke="#0a62b8"/>
</g>
<g fill="none" stroke-width="3.5">
<path d="M131.5,2224.6 L137.1,2220.5 L142.7,2216.3 L148.3,2212.0 L153.8,2207.6 L159.4,2203.0 L165.0,2198.4 L170.6,2193.7 L176.2,2188.9 L181.8,2184.0 L187.4,2179.1 L193.0,2174.1 L198.6,2169.0 L204.1,2164.0 L209.7,2158.9 L215.3,2153.8 L220.9,2148.8 L226.5,2143.7 L232.1,2138.7 L237.7,2133.8 L243.2,2128.9 L248.8,2124.1 L254.4,2119.4 L260.0,2114.8 L265.6,2110.4 L271.2,2106.1 L276.8,2101.9 L282.4,2097.9 L287.9,2094.1 L293.5,2090.6 L299.1,2087.2 L304.7,2084.0 L310.3,2081.1 L315.9,2078.4 L321.5,2076.0 L327.1,2073.9 L332.6,2072.0 L338.2,2070.5 L343.8,2069.2 L349.4,2068.2 L355.0,2067.5 L360.5,2067.1 L365.9,2067.0 L371.4,2067.2 L376.9,2067.8 L382.4,2068.7 L387.9,2069.9 L393.3,2071.4 L398.8,2073.2 L404.3,2075.3 L409.8,2077.7 L415.2,2080.4 L420.7,2083.4 L426.2,2086.6 L431.6,2090.1 L437.1,2093.8 L442.6,2097.7 L448.1,2101.8 L453.6,2106.1 L459.0,2110.6 L464.5,2115.2 L470.0,2120.0 L475.4,2124.9 L480.9,2129.9 L486.4,2134.9 L491.9,2140.1 L497.4,2145.3 L502.8,2150.5 L508.3,2155.8 L513.8,2161.1 L519.2,2166.3 L524.7,2171.5 L530.2,2176.7 L535.7,2181.9 L541.1,2187.0 L546.6,2192.0 L552.1,2196.9 L557.6,2201.8 L563.0,2206.5 L568.5,2211.1 L574.0,2215.6 L579.6,2220.0 L585.2,2224.3 L590.8,2228.4 L596.4,2232.4 L602.0,2236.2 L607.6,2239.9 L613.2,2243.5 L618.8,2246.9 L624.4,2250.1 L630.0,2253.3 L635.6,2256.2 L641.2,2259.1 L646.8,2261.8 L652.4,2264.3 L658.0,2266.7 L663.6,2269.0 L669.2,2271.2 L674.8,2273.2 L680.4,2275.1 L686.0,2276.9 L691.6,2278.6 L697.2,2280.2 L702.8,2281.6 L708.4,2283.0 L714.0,2284.3 L719.6,2285.4 L725.2,2286.5 L730.8,2287.6 L736.4,2288.5 L742.0,2289.4 L747.6,2290.2 L753.2,2290.9 L758.8,2291.6 L764.4,2292.2 L770.0,2292.8 L775.6,2293.3 L781.2,2293.8 L786.8,2294.2 L792.4,2294.6 L798.0,2294.9 L803.5,2295.3 L809.0,2295.5 L814.4,2295.8 L819.9,2296.1 L825.4,2296.3 L830.9,2296.5 L836.3,2296.6 L841.8,2296.8 L847.3,2296.9 L852.8,2297.1 L858.2,2297.2 L863.7,2297.3 L869.2,2297.4 L874.6,2297.4 L880.1,2297.5 L885.6,2297.6 L891.1,2297.6 L896.5,2297.7 L902.0,2297.7 L907.5,2297.7 L913.0,2297.8 L918.5,2297.8 L923.9,2297.8 L929.4,2297.9 L934.9,2297.9 L940.4,2297.9 L945.8,2297.9 L951.3,2297.9 L956.8,2297.9 L962.2,2297.9 L967.7,2297.9 L973.2,2298.0 L978.7,2298.0 L984.1,2298.0 L989.6,2298.0 L995.1,2298.0 L1000.6,2298.0 L1006.0,2298.0 L1011.5,2298.0 L1017.0,2298.0 L1022.5,2298.0 L1027.9,2298.0 L1033.4,2298.0 L1038.8,2298.0 L1044.3,2298.0 L1049.8,2298.0 L1055.2,2298.0 L1060.7,2298.0 L1066.2,2298.0 L1071.6,2298.0 L1077.1,2298.0 L1082.5,2298.0 L1088.0,2298.0 L1093.5,2298.0 L1098.9,2298.0 L1104.4,2298.0 L1109.9,2298.0 L1115.3,2298.0 L1120.8,2298.0 L1126.2,2298.0 L1131.7,2298.0 L1137.2,2298.0 L1142.6,2298.0 L1148.1,2298.0 L1153.6,2298.0 L1159.0,2298.0 L1164.5,2298.0 L1170.0,2298.0 L1175.4,2298.0 L1180.9,2298.0 L1186.3,2298.0 L1191.8,2298.0 L1197.3,2298.0 L1202.7,2298.0 L1208.2,2298.0 L1213.7,2298.0 L1219.1,2298.0 L1224.6,2298.0 L1230.0,2298.0 L1235.5,2298.0" stroke="#e23a3a"/>
<path d="M131.5,2230.3 L137.1,2226.3 L142.7,2222.1 L148.3,2217.8 L153.8,2213.4 L159.4,2208.9 L165.0,2204.2 L170.6,2199.5 L176.2,2194.6 L181.8,2189.7 L187.4,2184.6 L193.0,2179.5 L198.6,2174.4 L204.1,2169.1 L209.7,2163.9 L215.3,2158.6 L220.9,2153.4 L226.5,2148.1 L232.1,2142.8 L237.7,2137.6 L243.2,2132.5 L248.8,2127.4 L254.4,2122.3 L260.0,2117.4 L265.6,2112.6 L271.2,2108.0 L276.8,2103.5 L282.4,2099.1 L287.9,2095.0 L293.5,2091.0 L299.1,2087.2 L304.7,2083.7 L310.3,2080.4 L315.9,2077.4 L321.5,2074.6 L327.1,2072.1 L332.6,2069.9 L338.2,2068.0 L343.8,2066.4 L349.4,2065.1 L355.0,2064.1 L360.5,2063.4 L365.9,2063.1 L371.4,2063.0 L376.9,2063.3 L382.4,2063.9 L387.9,2064.8 L393.3,2065.9 L398.8,2067.4 L404.3,2069.1 L409.8,2071.2 L415.2,2073.5 L420.7,2076.1 L426.2,2078.9 L431.6,2082.0 L437.1,2085.3 L442.6,2088.8 L448.1,2092.5 L453.6,2096.4 L459.0,2100.5 L464.5,2104.8 L470.0,2109.2 L475.4,2113.8 L480.9,2118.5 L486.4,2123.3 L491.9,2128.1 L497.4,2133.1 L502.8,2138.1 L508.3,2143.2 L513.8,2148.3 L519.2,2153.4 L524.7,2158.5 L530.2,2163.7 L535.7,2168.8 L541.1,2173.8 L546.6,2178.8 L552.1,2183.8 L557.6,2188.7 L563.0,2193.5 L568.5,2198.3 L574.0,2202.9 L579.6,2207.5 L585.2,2211.9 L590.8,2216.3 L596.4,2220.5 L602.0,2224.6 L607.6,2228.5 L613.2,2232.4 L618.8,2236.1 L624.4,2239.6 L630.0,2243.1 L635.6,2246.4 L641.2,2249.5 L646.8,2252.6 L652.4,2255.5 L658.0,2258.2 L663.6,2260.9 L669.2,2263.4 L674.8,2265.7 L680.4,2268.0 L686.0,2270.1 L691.6,2272.1 L697.2,2274.0 L702.8,2275.8 L708.4,2277.5 L714.0,2279.1 L719.6,2280.6 L725.2,2281.9 L730.8,2283.2 L736.4,2284.4 L742.0,2285.6 L747.6,2286.6 L753.2,2287.6 L758.8,2288.5 L764.4,2289.3 L770.0,2290.1 L775.6,2290.8 L781.2,2291.5 L786.8,2292.1 L792.4,2292.6 L798.0,2293.1 L803.5,2293.6 L809.0,2294.0 L814.4,2294.4 L819.9,2294.8 L825.4,2295.1 L830.9,2295.4 L836.3,2295.7 L841.8,2295.9 L847.3,2296.1 L852.8,2296.3 L858.2,2296.5 L863.7,2296.7 L869.2,2296.8 L874.6,2296.9 L880.1,2297.1 L885.6,2297.2 L891.1,2297.3 L896.5,2297.3 L902.0,2297.4 L907.5,2297.5 L913.0,2297.6 L918.5,2297.6 L923.9,2297.7 L929.4,2297.7 L934.9,2297.7 L940.4,2297.8 L945.8,2297.8 L951.3,2297.8 L956.8,2297.8 L962.2,2297.9 L967.7,2297.9 L973.2,2297.9 L978.7,2297.9 L984.1,2297.9 L989.6,2297.9 L995.1,2297.9 L1000.6,2298.0 L1006.0,2298.0 L1011.5,2298.0 L1017.0,2298.0 L1022.5,2298.0 L1027.9,2298.0 L1033.4,2298.0 L1038.8,2298.0 L1044.3,2298.0 L1049.8,2298.0 L1055.2,2298.0 L1060.7,2298.0 L1066.2,2298.0 L1071.6,2298.0 L1077.1,2298.0 L1082.5,2298.0 L1088.0,2298.0 L1093.5,2298.0 L1098.9,2298.0 L1104.4,2298.0 L1109.9,2298.0 L1115.3,2298.0 L1120.8,2298.0 L1126.2,2298.0 L1131.7,2298.0 L1137.2,2298.0 L1142.6,2298.0 L1148.1,2298.0 L1153.6,2298.0 L1159.0,2298.0 L1164.5,2298.0 L1170.0,2298.0 L1175.4,2298.0 L1180.9,2298.0 L1186.3,2298.0 L1191.8,2298.0 L1197.3,2298.0 L1202.7,2298.0 L1208.2,2298.0 L1213.7,2298.0 L1219.1,2298.0 L1224.6,2298.0 L1230.0,2298.0 L1235.5,2298.0" stroke="#0a62b8"/>
</g>
<g fill="none" stroke-width="3.5">
<path d="M131.5,2733.1 L137.1,2731.8 L142.7,2730.6 L148.3,2729.5 L153.8,2728.3 L159.4,2727.1 L165.0,2726.0 L170.6,2724.8 L176.2,2723.7 L181.8,2722.5 L187.4,2721.4 L193.0,2720.3 L198.6,2719.2 L204.1,2718.2 L209.7,2717.1 L215.3,2716.1 L220.9,2715.0 L226.5,2714.0 L232.1,2713.0 L237.7,2712.0 L243.2,2711.0 L248.8,2710.1 L254.4,2709.2 L260.0,2708.2 L265.6,2707.3 L271.2,2706.4 L276.8,2705.6 L282.4,2704.7 L287.9,2703.9 L293.5,2703.1 L299.1,2702.3 L304.7,2701.5 L310.3,2700.8 L315.9,2700.1 L321.5,2699.3 L327.1,2698.7 L332.6,2698.0 L338.2,2697.4 L343.8,2696.7 L349.4,2696.1 L355.0,2695.6 L360.5,2695.0 L365.9,2694.5 L371.4,2694.0 L376.9,2693.5 L382.4,2693.0 L387.9,2692.6 L393.3,2692.2 L398.8,2691.8 L404.3,2691.4 L409.8,2691.1 L415.2,2690.8 L420.7,2690.5 L426.2,2690.2 L431.6,2690.0 L437.1,2689.8 L442.6,2689.6 L448.1,2689.4 L453.6,2689.3 L459.0,2689.2 L464.5,2689.1 L470.0,2689.0 L475.4,2689.0 L480.9,2689.0 L486.4,2689.0 L491.9,2689.1 L497.4,2689.1 L502.8,2689.2 L508.3,2689.3 L513.8,2689.5 L519.2,2689.6 L524.7,2689.8 L530.2,2690.0 L535.7,2690.2 L541.1,2690.5 L546.6,2690.8 L552.1,2691.1 L557.6,2691.4 L563.0,2691.7 L568.5,2692.1 L574.0,2692.5 L579.6,2692.9 L585.2,2693.3 L590.8,2693.8 L596.4,2694.3 L602.0,2694.8 L607.6,2695.3 L613.2,2695.8 L618.8,2696.4 L624.4,2697.0 L630.0,2697.6 L635.6,2698.2 L641.2,2698.8 L646.8,2699.5 L652.4,2700.2 L658.0,2700.9 L663.6,2701.6 L669.2,2702.3 L674.8,2703.1 L680.4,2703.9 L686.0,2704.7 L691.6,2705.5 L697.2,2706.3 L702.8,2707.2 L708.4,2708.0 L714.0,2708.9 L719.6,2709.8 L725.2,2710.7 L730.8,2711.6 L736.4,2712.6 L742.0,2713.5 L747.6,2714.5 L753.2,2715.5 L758.8,2716.5 L764.4,2717.5 L770.0,2718.5 L775.6,2719.6 L781.2,2720.6 L786.8,2721.7 L792.4,2722.7 L798.0,2723.8 L803.5,2724.9 L809.0,2726.0 L814.4,2727.1 L819.9,2728.3 L825.4,2729.4 L830.9,2730.5 L836.3,2731.7 L841.8,2732.8 L847.3,2734.0 L852.8,2735.2 L858.2,2736.4 L863.7,2737.5 L869.2,2738.7 L874.6,2739.9 L880.1,2741.1 L885.6,2742.3 L891.1,2743.5 L896.5,2744.8 L902.0,2746.0 L907.5,2747.2 L913.0,2748.4 L918.5,2749.7 L923.9,2750.9 L929.4,2752.1 L934.9,2753.4 L940.4,2754.6 L945.8,2755.8 L951.3,2757.1 L956.8,2758.3 L962.2,2759.5 L967.7,2760.8 L973.2,2762.0 L978.7,2763.2 L984.1,2764.5 L989.6,2765.7 L995.1,2766.9 L1000.6,2768.2 L1006.0,2769.4 L1011.5,2770.6 L1017.0,2771.8 L1022.5,2773.1 L1027.9,2774.3 L1033.4,2775.5 L1038.8,2776.7 L1044.3,2777.9 L1049.8,2779.1 L1055.2,2780.3 L1060.7,2781.4 L1066.2,2782.6 L1071.6,2783.8 L1077.1,2785.0 L1082.5,2786.1 L1088.0,2787.3 L1093.5,2788.4 L1098.9,2789.6 L1104.4,2790.7 L1109.9,2791.8 L1115.3,2792.9 L1120.8,2794.1 L1126.2,2795.2 L1131.7,2796.3 L1137.2,2797.3 L1142.6,2798.4 L1148.1,2799.5 L1153.6,2800.5 L1159.0,2801.6 L1164.5,2802.6 L1170.0,2803.7 L1175.4,2804.7 L1180.9,2805.7 L1186.3,2806.7 L1191.8,2807.7 L1197.3,2808.7 L1202.7,2809.7 L1208.2,2810.7 L1213.7,2811.6 L1219.1,2812.6 L1224.6,2813.5 L1230.0,2814.4 L1235.5,2815.3" stroke="#e23a3a"/>
<path d="M131.5,2745.7 L137.1,2744.5 L142.7,2743.4 L148.3,2742.3 L153.8,2741.2 L159.4,2740.1 L165.0,2739.0 L170.6,2737.9 L176.2,2736.8 L181.8,2735.8 L187.4,2734.7 L193.0,2733.7 L198.6,2732.7 L204.1,2731.6 L209.7,2730.6 L215.3,2729.6 L220.9,2728.7 L226.5,2727.7 L232.1,2726.8 L237.7,2725.8 L243.2,2724.9 L248.8,2724.0 L254.4,2723.1 L260.0,2722.3 L265.6,2721.4 L271.2,2720.6 L276.8,2719.7 L282.4,2718.9 L287.9,2718.1 L293.5,2717.4 L299.1,2716.6 L304.7,2715.9 L310.3,2715.2 L315.9,2714.5 L321.5,2713.8 L327.1,2713.2 L332.6,2712.5 L338.2,2711.9 L343.8,2711.3 L349.4,2710.8 L355.0,2710.2 L360.5,2709.7 L365.9,2709.2 L371.4,2708.7 L376.9,2708.3 L382.4,2707.8 L387.9,2707.4 L393.3,2707.0 L398.8,2706.7 L404.3,2706.3 L409.8,2706.0 L415.2,2705.7 L420.7,2705.4 L426.2,2705.2 L431.6,2704.9 L437.1,2704.7 L442.6,2704.6 L448.1,2704.4 L453.6,2704.3 L459.0,2704.2 L464.5,2704.1 L470.0,2704.0 L475.4,2704.0 L480.9,2704.0 L486.4,2704.0 L491.9,2704.0 L497.4,2704.1 L502.8,2704.2 L508.3,2704.3 L513.8,2704.4 L519.2,2704.5 L524.7,2704.7 L530.2,2704.9 L535.7,2705.0 L541.1,2705.3 L546.6,2705.5 L552.1,2705.7 L557.6,2706.0 L563.0,2706.3 L568.5,2706.6 L574.0,2707.0 L579.6,2707.3 L585.2,2707.7 L590.8,2708.1 L596.4,2708.5 L602.0,2708.9 L607.6,2709.3 L613.2,2709.8 L618.8,2710.3 L624.4,2710.8 L630.0,2711.3 L635.6,2711.8 L641.2,2712.4 L646.8,2712.9 L652.4,2713.5 L658.0,2714.1 L663.6,2714.7 L669.2,2715.4 L674.8,2716.0 L680.4,2716.7 L686.0,2717.4 L691.6,2718.1 L697.2,2718.8 L702.8,2719.5 L708.4,2720.2 L714.0,2721.0 L719.6,2721.8 L725.2,2722.5 L730.8,2723.3 L736.4,2724.1 L742.0,2725.0 L747.6,2725.8 L753.2,2726.6 L758.8,2727.5 L764.4,2728.4 L770.0,2729.3 L775.6,2730.2 L781.2,2731.1 L786.8,2732.0 L792.4,2732.9 L798.0,2733.8 L803.5,2734.8 L809.0,2735.7 L814.4,2736.7 L819.9,2737.7 L825.4,2738.6 L830.9,2739.6 L836.3,2740.6 L841.8,2741.6 L847.3,2742.6 L852.8,2743.7 L858.2,2744.7 L863.7,2745.7 L869.2,2746.7 L874.6,2747.8 L880.1,2748.8 L885.6,2749.9 L891.1,2750.9 L896.5,2752.0 L902.0,2753.1 L907.5,2754.1 L913.0,2755.2 L918.5,2756.3 L923.9,2757.4 L929.4,2758.4 L934.9,2759.5 L940.4,2760.6 L945.8,2761.7 L951.3,2762.8 L956.8,2763.9 L962.2,2765.0 L967.7,2766.1 L973.2,2767.2 L978.7,2768.2 L984.1,2769.3 L989.6,2770.4 L995.1,2771.5 L1000.6,2772.6 L1006.0,2773.7 L1011.5,2774.8 L1017.0,2775.9 L1022.5,2776.9 L1027.9,2778.0 L1033.4,2779.1 L1038.8,2780.2 L1044.3,2781.2 L1049.8,2782.3 L1055.2,2783.4 L1060.7,2784.4 L1066.2,2785.5 L1071.6,2786.5 L1077.1,2787.6 L1082.5,2788.6 L1088.0,2789.7 L1093.5,2790.7 L1098.9,2791.7 L1104.4,2792.8 L1109.9,2793.8 L1115.3,2794.8 L1120.8,2795.8 L1126.2,2796.8 L1131.7,2797.8 L1137.2,2798.8 L1142.6,2799.8 L1148.1,2800.7 L1153.6,2801.7 L1159.0,2802.7 L1164.5,2803.6 L1170.0,2804.6 L1175.4,2805.5 L1180.9,2806.4 L1186.3,2807.4 L1191.8,2808.3 L1197.3,2809.2 L1202.7,2810.1 L1208.2,2811.0 L1213.7,2811.9 L1219.1,2812.7 L1224.6,2813.6 L1230.0,2814.5 L1235.5,2815.3" stroke="#0a62b8"/>
</g>
<g fill="#000">
<rect x="129.6" y="17.2" width="3.8" height="2865.3"/>
<rect x="133.4" y="19.0" width="3.4" height="2861.0" fill="#c4c4c4"/>
<rect x="126.2" y="19.0" width="3.4" height="2861.0" fill="#dcdcdc"/>
<rect x="1232" y="17.2" width="7" height="2865.3" fill="#3c3c3c"/>
<rect x="114" y="17.2" width="1125" height="3.6" fill="#000"/>
<rect x="114" y="20.8" width="1125" height="3.5" fill="#888"/>
<rect x="114" y="588.7" width="1125" height="3.6" fill="#000"/>
<rect x="114" y="592.3" width="1125" height="3.5" fill="#c8c8c8"/>
<rect x="114" y="1153.1" width="1125" height="3.6" fill="#14142a"/>
<rect x="114" y="1156.7" width="1125" height="3.5" fill="#4a4a45"/>
<rect x="114" y="1725.2" width="1125" height="3.6" fill="#000"/>
<rect x="114" y="1728.8" width="1125" height="3.5" fill="#888"/>
<rect x="114" y="2296.2" width="1125" height="3.6" fill="#000"/>
<rect x="114" y="2299.8" width="1125" height="3.5" fill="#c4c4c4"/>
<rect x="114" y="2861.1" width="1125" height="3.6" fill="#14142a"/>
<rect x="114" y="2864.7" width="1125" height="3.5" fill="#4a4a45"/>
<rect x="114" y="524.7" width="17" height="5" fill="#111"/>
<rect x="114" y="461.4" width="17" height="5" fill="#111"/>
<rect x="114" y="398.1" width="17" height="5" fill="#111"/>
<rect x="114" y="334.8" width="17" height="5" fill="#111"/>
<rect x="114" y="271.5" width="17" height="5" fill="#111"/>
<rect x="114" y="208.2" width="17" height="5" fill="#111"/>
<rect x="114" y="144.9" width="17" height="5" fill="#111"/>
<rect x="114" y="81.6" width="17" height="5" fill="#111"/>
<rect x="123" y="556.6" width="8" height="4.4" fill="#222"/>
<rect x="123" y="493.4" width="8" height="4.4" fill="#222"/>
<rect x="123" y="430.1" width="8" height="4.4" fill="#222"/>
<rect x="123" y="366.8" width="8" height="4.4" fill="#222"/>
<rect x="123" y="303.5" width="8" height="4.4" fill="#222"/>
<rect x="123" y="240.2" width="8" height="4.4" fill="#222"/>
<rect x="123" y="176.9" width="8" height="4.4" fill="#222"/>
<rect x="123" y="113.5" width="8" height="4.4" fill="#222"/>
<rect x="123" y="50.3" width="8" height="4.4" fill="#222"/>
<rect x="114" y="1090.7" width="17" height="5" fill="#111"/>
<rect x="114" y="1027.4" width="17" height="5" fill="#111"/>
<rect x="114" y="964.1" width="17" height="5" fill="#111"/>
<rect x="114" y="900.8" width="17" height="5" fill="#111"/>
<rect x="114" y="837.5" width="17" height="5" fill="#111"/>
<rect x="114" y="774.2" width="17" height="5" fill="#111"/>
<rect x="114" y="710.9" width="17" height="5" fill="#111"/>
<rect x="114" y="647.6" width="17" height="5" fill="#111"/>
<rect x="123" y="1122.6" width="8" height="4.4" fill="#222"/>
<rect x="123" y="1059.3" width="8" height="4.4" fill="#222"/>
<rect x="123" y="996.0" width="8" height="4.4" fill="#222"/>
<rect x="123" y="932.8" width="8" height="4.4" fill="#222"/>
<rect x="123" y="869.5" width="8" height="4.4" fill="#222"/>
<rect x="123" y="806.1" width="8" height="4.4" fill="#222"/>
<rect x="123" y="742.8" width="8" height="4.4" fill="#222"/>
<rect x="123" y="679.5" width="8" height="4.4" fill="#222"/>
<rect x="123" y="616.2" width="8" height="4.4" fill="#222"/>
<rect x="114" y="1661.2" width="17" height="5" fill="#111"/>
<rect x="114" y="1597.9" width="17" height="5" fill="#111"/>
<rect x="114" y="1534.6" width="17" height="5" fill="#111"/>
<rect x="114" y="1471.3" width="17" height="5" fill="#111"/>
<rect x="114" y="1408.0" width="17" height="5" fill="#111"/>
<rect x="114" y="1344.7" width="17" height="5" fill="#111"/>
<rect x="114" y="1281.4" width="17" height="5" fill="#111"/>
<rect x="114" y="1218.1" width="17" height="5" fill="#111"/>
<rect x="123" y="1693.1" width="8" height="4.4" fill="#222"/>
<rect x="123" y="1629.8" width="8" height="4.4" fill="#222"/>
<rect x="123" y="1566.5" width="8" height="4.4" fill="#222"/>
<rect x="123" y="1503.2" width="8" height="4.4" fill="#222"/>
<rect x="123" y="1440.0" width="8" height="4.4" fill="#222"/>
<rect x="123" y="1376.6" width="8" height="4.4" fill="#222"/>
<rect x="123" y="1313.3" width="8" height="4.4" fill="#222"/>
<rect x="123" y="1250.0" width="8" height="4.4" fill="#222"/>
<rect x="123" y="1186.8" width="8" height="4.4" fill="#222"/>
<rect x="114" y="2232.2" width="17" height="5" fill="#111"/>
<rect x="114" y="2168.9" width="17" height="5" fill="#111"/>
<rect x="114" y="2105.6" width="17" height="5" fill="#111"/>
<rect x="114" y="2042.3" width="17" height="5" fill="#111"/>
<rect x="114" y="1979.0" width="17" height="5" fill="#111"/>
<rect x="114" y="1915.7" width="17" height="5" fill="#111"/>
<rect x="114" y="1852.4" width="17" height="5" fill="#111"/>
<rect x="114" y="1789.1" width="17" height="5" fill="#111"/>
<rect x="123" y="2264.2" width="8" height="4.4" fill="#222"/>
<rect x="123" y="2200.9" width="8" height="4.4" fill="#222"/>
<rect x="123" y="2137.6" width="8" height="4.4" fill="#222"/>
<rect x="123" y="2074.2" width="8" height="4.4" fill="#222"/>
<rect x="123" y="2011.0" width="8" height="4.4" fill="#222"/>
<rect x="123" y="1947.6" width="8" height="4.4" fill="#222"/>
<rect x="123" y="1884.3" width="8" height="4.4" fill="#222"/>
<rect x="123" y="1821.0" width="8" height="4.4" fill="#222"/>
<rect x="123" y="1757.8" width="8" height="4.4" fill="#222"/>
<rect x="114" y="2798.7" width="17" height="5" fill="#111"/>
<rect x="114" y="2735.4" width="17" height="5" fill="#111"/>
<rect x="114" y="2672.1" width="17" height="5" fill="#111"/>
<rect x="114" y="2608.8" width="17" height="5" fill="#111"/>
<rect x="114" y="2545.5" width="17" height="5" fill="#111"/>
<rect x="114" y="2482.2" width="17" height="5" fill="#111"/>
<rect x="114" y="2418.9" width="17" height="5" fill="#111"/>
<rect x="114" y="2355.6" width="17" height="5" fill="#111"/>
<rect x="123" y="2830.7" width="8" height="4.4" fill="#222"/>
<rect x="123" y="2767.4" width="8" height="4.4" fill="#222"/>
<rect x="123" y="2704.1" width="8" height="4.4" fill="#222"/>
<rect x="123" y="2640.8" width="8" height="4.4" fill="#222"/>
<rect x="123" y="2577.5" width="8" height="4.4" fill="#222"/>
<rect x="123" y="2514.2" width="8" height="4.4" fill="#222"/>
<rect x="123" y="2450.9" width="8" height="4.4" fill="#222"/>
<rect x="123" y="2387.6" width="8" height="4.4" fill="#222"/>
<rect x="123" y="2324.2" width="8" height="4.4" fill="#222"/>
<rect x="129.5" y="2864.5" width="4" height="18" fill="#111"/>
<rect x="241.4" y="2864.5" width="3.6" height="9" fill="#222"/>
<rect x="353.0" y="2864.5" width="4" height="18" fill="#111"/>
<rect x="462.7" y="2864.5" width="3.6" height="9" fill="#222"/>
<rect x="572.0" y="2864.5" width="4" height="18" fill="#111"/>
<rect x="684.2" y="2864.5" width="3.6" height="9" fill="#222"/>
<rect x="796.0" y="2864.5" width="4" height="18" fill="#111"/>
<rect x="905.7" y="2864.5" width="3.6" height="9" fill="#222"/>
<rect x="1015.0" y="2864.5" width="4" height="18" fill="#111"/>
<rect x="1124.5" y="2864.5" width="3.6" height="9" fill="#222"/>
<rect x="1233.5" y="2864.5" width="4" height="18" fill="#111"/>
</g>
<g>
<rect x="743.4" y="28.0" width="3.6" height="187" fill="#9a9a9a"/>
<rect x="748.9" y="29.8" width="477.1" height="183.0" fill="#fff" stroke="#000" stroke-width="3.8"/>
<rect x="751" y="31.8" width="473.0" height="3.4" fill="#e4e8e8"/>
<rect x="757.5" y="39.0" width="160" height="74.5" fill="#ff9f9f" stroke="#ff8080" stroke-width="4"/>
<rect x="757.5" y="125.5" width="160" height="76" fill="#78b6f1" stroke="#52a4ee" stroke-width="4"/>
<text x="932.5" y="102.5" font-size="70" textLength="283" lengthAdjust="spacingAndGlyphs">PSi-2 (1)</text>
<text x="932.5" y="187.0" font-size="70" textLength="283" lengthAdjust="spacingAndGlyphs">PSi-2 (2)</text>
<text class="b" x="468.7" y="367.7" font-size="60" textLength="641" lengthAdjust="spacingAndGlyphs">Etching time = 10 min</text>
</g>
<g>
<rect x="743.4" y="595.0" width="3.6" height="187" fill="#9a9a9a"/>
<rect x="748.9" y="594.3" width="477.1" height="185.5" fill="#fff" stroke="#000" stroke-width="3.8"/>
<rect x="751" y="598.8" width="473.0" height="3.4" fill="#e4e8e8"/>
<rect x="757.5" y="606.0" width="160" height="74.5" fill="#ff9f9f" stroke="#ff8080" stroke-width="4"/>
<rect x="757.5" y="692.5" width="160" height="76" fill="#78b6f1" stroke="#52a4ee" stroke-width="4"/>
<text x="932.5" y="665.5" font-size="70" textLength="283" lengthAdjust="spacingAndGlyphs">PSi-3 (1)</text>
<text x="932.5" y="752.5" font-size="70" textLength="283" lengthAdjust="spacingAndGlyphs">PSi-3 (2)</text>
<text class="b" x="468.7" y="902" font-size="60" textLength="641" lengthAdjust="spacingAndGlyphs">Etching time = 25 min</text>
</g>
<g>
<rect x="743.4" y="1160.5" width="3.6" height="187" fill="#9a9a9a"/>
<rect x="748.9" y="1162.4" width="477.1" height="182.9" fill="#fff" stroke="#000" stroke-width="3.8"/>
<rect x="751" y="1164.3" width="473.0" height="3.4" fill="#e4e8e8"/>
<rect x="757.5" y="1171.5" width="160" height="74.5" fill="#ff9f9f" stroke="#ff8080" stroke-width="4"/>
<rect x="757.5" y="1258.0" width="160" height="76" fill="#78b6f1" stroke="#52a4ee" stroke-width="4"/>
<text x="932.5" y="1235.0" font-size="70" textLength="283" lengthAdjust="spacingAndGlyphs">PSi-5 (1)</text>
<text x="932.5" y="1322.0" font-size="70" textLength="283" lengthAdjust="spacingAndGlyphs">PSi-5 (2)</text>
<text class="b" x="468.7" y="1480.7" font-size="60" textLength="641" lengthAdjust="spacingAndGlyphs">Etching time = 35 min</text>
</g>
<g>
<rect x="743.4" y="1730.0" width="3.6" height="187" fill="#9a9a9a"/>
<rect x="748.9" y="1732.7" width="477.1" height="182.1" fill="#fff" stroke="#000" stroke-width="3.8"/>
<rect x="751" y="1733.8" width="473.0" height="3.4" fill="#e4e8e8"/>
<rect x="757.5" y="1741.0" width="160" height="74.5" fill="#ff9f9f" stroke="#ff8080" stroke-width="4"/>
<rect x="757.5" y="1827.5" width="160" height="76" fill="#78b6f1" stroke="#52a4ee" stroke-width="4"/>
<text x="932.5" y="1804.5" font-size="70" textLength="283" lengthAdjust="spacingAndGlyphs">PSi-7 (1)</text>
<text x="932.5" y="1889.0" font-size="70" textLength="283" lengthAdjust="spacingAndGlyphs">PSi-7 (2)</text>
<text class="b" x="468.7" y="2015" font-size="60" textLength="641" lengthAdjust="spacingAndGlyphs">Etching time = 50 min</text>
</g>
<g>
<rect x="743.4" y="2299.5" width="3.6" height="187" fill="#9a9a9a"/>
<rect x="748.9" y="2302.6" width="477.1" height="181.7" fill="#fff" stroke="#000" stroke-width="3.8"/>
<rect x="751" y="2303.3" width="473.0" height="3.4" fill="#e4e8e8"/>
<rect x="757.5" y="2310.5" width="160" height="74.5" fill="#ff9f9f" stroke="#ff8080" stroke-width="4"/>
<rect x="757.5" y="2397.0" width="160" height="76" fill="#78b6f1" stroke="#52a4ee" stroke-width="4"/>
<text x="932.5" y="2370.5" font-size="70" textLength="283" lengthAdjust="spacingAndGlyphs">PSi-8 (1)</text>
<text x="932.5" y="2458.5" font-size="70" textLength="283" lengthAdjust="spacingAndGlyphs">PSi-8 (2)</text>
<text class="b" x="468.7" y="2598" font-size="60" textLength="641" lengthAdjust="spacingAndGlyphs">Etching time = 60 min</text>
</g>
<g>
<rect x="353.1" y="590.5" width="3.8" height="13" fill="#111"/>
<rect x="572.1" y="590.5" width="3.8" height="13" fill="#111"/>
<rect x="796.1" y="590.5" width="3.8" height="13" fill="#111"/>
<rect x="1015.1" y="590.5" width="3.8" height="13" fill="#111"/>
<rect x="241.4" y="1156.5" width="3.6" height="8" fill="#222"/>
<rect x="353.1" y="1156.5" width="3.8" height="19" fill="#111"/>
<rect x="462.7" y="1156.5" width="3.6" height="8" fill="#222"/>
<rect x="572.1" y="1156.5" width="3.8" height="19" fill="#111"/>
<rect x="796.1" y="1156.5" width="3.8" height="19" fill="#111"/>
<rect x="905.7" y="1156.5" width="3.6" height="8" fill="#222"/>
<rect x="1015.1" y="1156.5" width="3.8" height="19" fill="#111"/>
<rect x="1124.5" y="1156.5" width="3.6" height="8" fill="#222"/>
<rect x="241.4" y="1727.0" width="3.6" height="7" fill="#222"/>
<rect x="353.1" y="1727.0" width="3.8" height="13" fill="#111"/>
<rect x="462.7" y="1727.0" width="3.6" height="7" fill="#222"/>
<rect x="572.1" y="1727.0" width="3.8" height="13" fill="#111"/>
<rect x="796.1" y="1727.0" width="3.8" height="13" fill="#111"/>
<rect x="905.7" y="1727.0" width="3.6" height="7" fill="#222"/>
<rect x="1015.1" y="1727.0" width="3.8" height="13" fill="#111"/>
<rect x="1124.5" y="1727.0" width="3.6" height="7" fill="#222"/>
<rect x="353.1" y="2298.0" width="3.8" height="13" fill="#111"/>
<rect x="572.1" y="2298.0" width="3.8" height="13" fill="#111"/>
<rect x="796.1" y="2298.0" width="3.8" height="13" fill="#111"/>
<rect x="1015.1" y="2298.0" width="3.8" height="13" fill="#111"/>
</g>
<text x="127.5" y="2945.5" font-size="72" text-anchor="middle">0</text>
<text x="351.0" y="2945.5" font-size="72" text-anchor="middle">20</text>
<text x="570.0" y="2945.5" font-size="72" text-anchor="middle">40</text>
<text x="794.0" y="2945.5" font-size="72" text-anchor="middle">60</text>
<text x="1013.0" y="2945.5" font-size="72" text-anchor="middle">80</text>
<text x="1231.5" y="2945.5" font-size="72" text-anchor="middle">100</text>
<text x="684.5" y="3041.5" font-size="77" text-anchor="middle" textLength="1097" lengthAdjust="spacingAndGlyphs">Pores diameter distribution (nm)</text>
<text transform="translate(74,1437) rotate(-90)" font-size="77" text-anchor="middle">Count</text>
</svg></body></html>
